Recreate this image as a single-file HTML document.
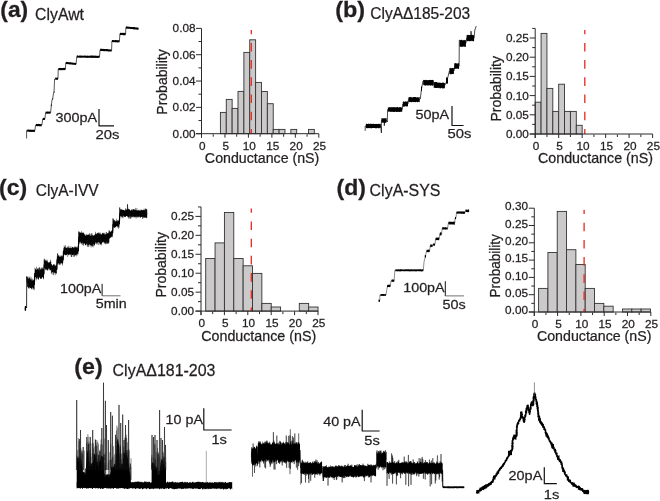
<!DOCTYPE html>
<html><head><meta charset="utf-8"><style>
html,body{margin:0;padding:0;background:#fff;}
svg{display:block;font-family:"Liberation Sans", sans-serif;will-change:transform;}
text{stroke:#231f20;stroke-width:0.25;}
</style></head><body>
<svg width="660" height="501" viewBox="0 0 660 501" fill="#231f20">
<rect width="660" height="501" fill="#fff"/>
<text transform="translate(0.3 16.6) scale(1.0600 1)" font-size="21.5" font-weight="bold">(a)</text>
<text transform="translate(35.1 19.8) scale(0.9582 1)" font-size="16.5">ClyAwt</text>
<text transform="translate(335.2 16.6) scale(1.0900 1)" font-size="21.5" font-weight="bold">(b)</text>
<text transform="translate(370.3 19.0) scale(0.9394 1)" font-size="16.5">ClyA&#916;185-203</text>
<text transform="translate(-1.0 195.4) scale(1.0700 1)" font-size="21.5" font-weight="bold">(c)</text>
<text transform="translate(35.8 196.3) scale(0.9394 1)" font-size="16.5">ClyA-IVV</text>
<text transform="translate(336.6 195.0) scale(1.0700 1)" font-size="21.5" font-weight="bold">(d)</text>
<text transform="translate(369.6 196.3) scale(0.9676 1)" font-size="16.5">ClyA-SYS</text>
<text transform="translate(74.3 373.6) scale(1.0800 1)" font-size="21.5" font-weight="bold">(e)</text>
<text transform="translate(112.6 375.5) scale(0.9676 1)" font-size="16.5">ClyA&#916;181-203</text>
<rect x="220.40" y="112.40" width="5.87" height="21.30" fill="#cbc9c9" stroke="#333" stroke-width="0.9"/>
<rect x="226.27" y="99.40" width="5.87" height="34.30" fill="#cbc9c9" stroke="#333" stroke-width="0.9"/>
<rect x="232.14" y="108.40" width="5.87" height="25.30" fill="#cbc9c9" stroke="#333" stroke-width="0.9"/>
<rect x="238.01" y="91.40" width="5.87" height="42.30" fill="#cbc9c9" stroke="#333" stroke-width="0.9"/>
<rect x="243.88" y="52.40" width="5.87" height="81.30" fill="#cbc9c9" stroke="#333" stroke-width="0.9"/>
<rect x="249.75" y="39.80" width="5.87" height="93.90" fill="#cbc9c9" stroke="#333" stroke-width="0.9"/>
<rect x="255.62" y="82.40" width="5.87" height="51.30" fill="#cbc9c9" stroke="#333" stroke-width="0.9"/>
<rect x="261.49" y="91.50" width="5.87" height="42.20" fill="#cbc9c9" stroke="#333" stroke-width="0.9"/>
<rect x="267.36" y="103.70" width="5.87" height="30.00" fill="#cbc9c9" stroke="#333" stroke-width="0.9"/>
<rect x="273.23" y="129.40" width="5.87" height="4.30" fill="#cbc9c9" stroke="#333" stroke-width="0.9"/>
<rect x="279.10" y="129.40" width="5.87" height="4.30" fill="#cbc9c9" stroke="#333" stroke-width="0.9"/>
<rect x="290.84" y="129.40" width="5.87" height="4.30" fill="#cbc9c9" stroke="#333" stroke-width="0.9"/>
<rect x="308.45" y="129.40" width="5.87" height="4.30" fill="#cbc9c9" stroke="#333" stroke-width="0.9"/>
<line x1="251.3" y1="29.879999999999995" x2="251.3" y2="133.7" stroke="#e8281e" stroke-width="1.3" stroke-dasharray="8.6 8.6" stroke-dashoffset="4.2"/>
<line x1="201.50" y1="28.38" x2="201.50" y2="137.70" stroke="#2b2b2b" stroke-width="1"/>
<line x1="196.00" y1="133.70" x2="318.80" y2="133.70" stroke="#2b2b2b" stroke-width="1"/>
<line x1="196.00" y1="133.70" x2="201.50" y2="133.70" stroke="#2b2b2b" stroke-width="1"/>
<text transform="translate(195.5 137.6) scale(1.0700 1)" font-size="11" text-anchor="end">0.00</text>
<line x1="196.00" y1="107.37" x2="201.50" y2="107.37" stroke="#2b2b2b" stroke-width="1"/>
<text transform="translate(195.5 111.27) scale(1.0700 1)" font-size="11" text-anchor="end">0.02</text>
<line x1="196.00" y1="81.04" x2="201.50" y2="81.04" stroke="#2b2b2b" stroke-width="1"/>
<text transform="translate(195.5 84.94) scale(1.0700 1)" font-size="11" text-anchor="end">0.04</text>
<line x1="196.00" y1="54.71" x2="201.50" y2="54.71" stroke="#2b2b2b" stroke-width="1"/>
<text transform="translate(195.5 58.60999999999999) scale(1.0700 1)" font-size="11" text-anchor="end">0.06</text>
<line x1="196.00" y1="28.38" x2="201.50" y2="28.38" stroke="#2b2b2b" stroke-width="1"/>
<text transform="translate(195.5 32.279999999999994) scale(1.0700 1)" font-size="11" text-anchor="end">0.08</text>
<line x1="198.50" y1="120.53" x2="201.50" y2="120.53" stroke="#2b2b2b" stroke-width="1"/>
<line x1="198.50" y1="94.20" x2="201.50" y2="94.20" stroke="#2b2b2b" stroke-width="1"/>
<line x1="198.50" y1="67.88" x2="201.50" y2="67.88" stroke="#2b2b2b" stroke-width="1"/>
<line x1="198.50" y1="41.54" x2="201.50" y2="41.54" stroke="#2b2b2b" stroke-width="1"/>
<line x1="201.50" y1="133.70" x2="201.50" y2="137.70" stroke="#2b2b2b" stroke-width="1"/>
<text transform="translate(202.3 149.6) scale(1.0700 1)" font-size="11" text-anchor="middle">0</text>
<line x1="213.23" y1="134.20" x2="213.23" y2="136.70" stroke="#2b2b2b" stroke-width="1"/>
<line x1="224.96" y1="133.70" x2="224.96" y2="137.70" stroke="#2b2b2b" stroke-width="1"/>
<text transform="translate(225.76000000000002 149.6) scale(1.0700 1)" font-size="11" text-anchor="middle">5</text>
<line x1="236.69" y1="134.20" x2="236.69" y2="136.70" stroke="#2b2b2b" stroke-width="1"/>
<line x1="248.42" y1="133.70" x2="248.42" y2="137.70" stroke="#2b2b2b" stroke-width="1"/>
<text transform="translate(249.22000000000003 149.6) scale(1.0700 1)" font-size="11" text-anchor="middle">10</text>
<line x1="260.15" y1="134.20" x2="260.15" y2="136.70" stroke="#2b2b2b" stroke-width="1"/>
<line x1="271.88" y1="133.70" x2="271.88" y2="137.70" stroke="#2b2b2b" stroke-width="1"/>
<text transform="translate(272.68 149.6) scale(1.0700 1)" font-size="11" text-anchor="middle">15</text>
<line x1="283.61" y1="134.20" x2="283.61" y2="136.70" stroke="#2b2b2b" stroke-width="1"/>
<line x1="295.34" y1="133.70" x2="295.34" y2="137.70" stroke="#2b2b2b" stroke-width="1"/>
<text transform="translate(296.14000000000004 149.6) scale(1.0700 1)" font-size="11" text-anchor="middle">20</text>
<line x1="307.07" y1="134.20" x2="307.07" y2="136.70" stroke="#2b2b2b" stroke-width="1"/>
<line x1="318.80" y1="133.70" x2="318.80" y2="137.70" stroke="#2b2b2b" stroke-width="1"/>
<text transform="translate(319.6 149.6) scale(1.0700 1)" font-size="11" text-anchor="middle">25</text>
<text transform="translate(262.1 162.5) scale(0.9801 1)" font-size="14.5" text-anchor="middle">Conductance (nS)</text>
<text transform="translate(167.1 82.0) rotate(-90)" font-size="14" text-anchor="middle">Probability</text>
<rect x="535.20" y="102.20" width="5.87" height="31.80" fill="#cbc9c9" stroke="#333" stroke-width="0.9"/>
<rect x="541.07" y="33.40" width="5.87" height="100.60" fill="#cbc9c9" stroke="#333" stroke-width="0.9"/>
<rect x="546.94" y="88.40" width="5.87" height="45.60" fill="#cbc9c9" stroke="#333" stroke-width="0.9"/>
<rect x="552.81" y="111.40" width="5.87" height="22.60" fill="#cbc9c9" stroke="#333" stroke-width="0.9"/>
<rect x="558.68" y="84.20" width="5.87" height="49.80" fill="#cbc9c9" stroke="#333" stroke-width="0.9"/>
<rect x="564.55" y="111.40" width="5.87" height="22.60" fill="#cbc9c9" stroke="#333" stroke-width="0.9"/>
<rect x="570.42" y="111.40" width="5.87" height="22.60" fill="#cbc9c9" stroke="#333" stroke-width="0.9"/>
<rect x="576.29" y="125.30" width="5.87" height="8.70" fill="#cbc9c9" stroke="#333" stroke-width="0.9"/>
<line x1="584.8" y1="29.900000000000006" x2="584.8" y2="134.0" stroke="#e8281e" stroke-width="1.3" stroke-dasharray="8.6 8.6" stroke-dashoffset="4.2"/>
<line x1="535.20" y1="28.40" x2="535.20" y2="138.00" stroke="#2b2b2b" stroke-width="1"/>
<line x1="529.70" y1="134.00" x2="652.60" y2="134.00" stroke="#2b2b2b" stroke-width="1"/>
<line x1="529.70" y1="134.00" x2="535.20" y2="134.00" stroke="#2b2b2b" stroke-width="1"/>
<text transform="translate(528.9000000000001 137.9) scale(1.0700 1)" font-size="11" text-anchor="end">0.00</text>
<line x1="529.70" y1="114.80" x2="535.20" y2="114.80" stroke="#2b2b2b" stroke-width="1"/>
<text transform="translate(528.9000000000001 118.7) scale(1.0700 1)" font-size="11" text-anchor="end">0.05</text>
<line x1="529.70" y1="95.60" x2="535.20" y2="95.60" stroke="#2b2b2b" stroke-width="1"/>
<text transform="translate(528.9000000000001 99.5) scale(1.0700 1)" font-size="11" text-anchor="end">0.10</text>
<line x1="529.70" y1="76.40" x2="535.20" y2="76.40" stroke="#2b2b2b" stroke-width="1"/>
<text transform="translate(528.9000000000001 80.30000000000001) scale(1.0700 1)" font-size="11" text-anchor="end">0.15</text>
<line x1="529.70" y1="57.20" x2="535.20" y2="57.20" stroke="#2b2b2b" stroke-width="1"/>
<text transform="translate(528.9000000000001 61.1) scale(1.0700 1)" font-size="11" text-anchor="end">0.20</text>
<line x1="529.70" y1="38.00" x2="535.20" y2="38.00" stroke="#2b2b2b" stroke-width="1"/>
<text transform="translate(528.9000000000001 41.9) scale(1.0700 1)" font-size="11" text-anchor="end">0.25</text>
<line x1="532.20" y1="124.40" x2="535.20" y2="124.40" stroke="#2b2b2b" stroke-width="1"/>
<line x1="532.20" y1="105.20" x2="535.20" y2="105.20" stroke="#2b2b2b" stroke-width="1"/>
<line x1="532.20" y1="86.00" x2="535.20" y2="86.00" stroke="#2b2b2b" stroke-width="1"/>
<line x1="532.20" y1="66.80" x2="535.20" y2="66.80" stroke="#2b2b2b" stroke-width="1"/>
<line x1="532.20" y1="47.60" x2="535.20" y2="47.60" stroke="#2b2b2b" stroke-width="1"/>
<line x1="532.20" y1="28.40" x2="535.20" y2="28.40" stroke="#2b2b2b" stroke-width="1"/>
<line x1="535.20" y1="134.00" x2="535.20" y2="138.00" stroke="#2b2b2b" stroke-width="1"/>
<text transform="translate(536.0 149.8) scale(1.0700 1)" font-size="11" text-anchor="middle">0</text>
<line x1="546.94" y1="134.50" x2="546.94" y2="137.00" stroke="#2b2b2b" stroke-width="1"/>
<line x1="558.68" y1="134.00" x2="558.68" y2="138.00" stroke="#2b2b2b" stroke-width="1"/>
<text transform="translate(559.48 149.8) scale(1.0700 1)" font-size="11" text-anchor="middle">5</text>
<line x1="570.42" y1="134.50" x2="570.42" y2="137.00" stroke="#2b2b2b" stroke-width="1"/>
<line x1="582.16" y1="134.00" x2="582.16" y2="138.00" stroke="#2b2b2b" stroke-width="1"/>
<text transform="translate(582.96 149.8) scale(1.0700 1)" font-size="11" text-anchor="middle">10</text>
<line x1="593.90" y1="134.50" x2="593.90" y2="137.00" stroke="#2b2b2b" stroke-width="1"/>
<line x1="605.64" y1="134.00" x2="605.64" y2="138.00" stroke="#2b2b2b" stroke-width="1"/>
<text transform="translate(606.44 149.8) scale(1.0700 1)" font-size="11" text-anchor="middle">15</text>
<line x1="617.38" y1="134.50" x2="617.38" y2="137.00" stroke="#2b2b2b" stroke-width="1"/>
<line x1="629.12" y1="134.00" x2="629.12" y2="138.00" stroke="#2b2b2b" stroke-width="1"/>
<text transform="translate(629.92 149.8) scale(1.0700 1)" font-size="11" text-anchor="middle">20</text>
<line x1="640.86" y1="134.50" x2="640.86" y2="137.00" stroke="#2b2b2b" stroke-width="1"/>
<line x1="652.60" y1="134.00" x2="652.60" y2="138.00" stroke="#2b2b2b" stroke-width="1"/>
<text transform="translate(653.4 149.8) scale(1.0700 1)" font-size="11" text-anchor="middle">25</text>
<text transform="translate(595.5 163.2) scale(0.9848 1)" font-size="14.5" text-anchor="middle">Conductance (nS)</text>
<text transform="translate(501.2 88.8) rotate(-90)" font-size="14" text-anchor="middle">Probability</text>
<rect x="205.70" y="258.50" width="9.36" height="52.60" fill="#cbc9c9" stroke="#333" stroke-width="0.9"/>
<rect x="215.06" y="242.90" width="9.36" height="68.20" fill="#cbc9c9" stroke="#333" stroke-width="0.9"/>
<rect x="224.42" y="212.50" width="9.36" height="98.60" fill="#cbc9c9" stroke="#333" stroke-width="0.9"/>
<rect x="233.78" y="258.50" width="9.36" height="52.60" fill="#cbc9c9" stroke="#333" stroke-width="0.9"/>
<rect x="243.14" y="265.80" width="9.36" height="45.30" fill="#cbc9c9" stroke="#333" stroke-width="0.9"/>
<rect x="252.50" y="273.40" width="9.36" height="37.70" fill="#cbc9c9" stroke="#333" stroke-width="0.9"/>
<rect x="261.86" y="303.40" width="9.36" height="7.70" fill="#cbc9c9" stroke="#333" stroke-width="0.9"/>
<rect x="271.22" y="307.00" width="9.36" height="4.10" fill="#cbc9c9" stroke="#333" stroke-width="0.9"/>
<rect x="299.30" y="303.40" width="9.36" height="7.70" fill="#cbc9c9" stroke="#333" stroke-width="0.9"/>
<rect x="308.66" y="307.00" width="9.36" height="4.10" fill="#cbc9c9" stroke="#333" stroke-width="0.9"/>
<line x1="251.3" y1="208.43" x2="251.3" y2="311.1" stroke="#e8281e" stroke-width="1.3" stroke-dasharray="8.6 8.6" stroke-dashoffset="4.2"/>
<line x1="201.00" y1="206.93" x2="201.00" y2="315.10" stroke="#2b2b2b" stroke-width="1"/>
<line x1="195.50" y1="311.10" x2="318.00" y2="311.10" stroke="#2b2b2b" stroke-width="1"/>
<line x1="195.50" y1="311.10" x2="201.00" y2="311.10" stroke="#2b2b2b" stroke-width="1"/>
<text transform="translate(194.0 315.0) scale(1.0700 1)" font-size="11" text-anchor="end">0.00</text>
<line x1="195.50" y1="292.16" x2="201.00" y2="292.16" stroke="#2b2b2b" stroke-width="1"/>
<text transform="translate(194.0 296.06) scale(1.0700 1)" font-size="11" text-anchor="end">0.05</text>
<line x1="195.50" y1="273.22" x2="201.00" y2="273.22" stroke="#2b2b2b" stroke-width="1"/>
<text transform="translate(194.0 277.12) scale(1.0700 1)" font-size="11" text-anchor="end">0.10</text>
<line x1="195.50" y1="254.28" x2="201.00" y2="254.28" stroke="#2b2b2b" stroke-width="1"/>
<text transform="translate(194.0 258.18) scale(1.0700 1)" font-size="11" text-anchor="end">0.15</text>
<line x1="195.50" y1="235.34" x2="201.00" y2="235.34" stroke="#2b2b2b" stroke-width="1"/>
<text transform="translate(194.0 239.24000000000004) scale(1.0700 1)" font-size="11" text-anchor="end">0.20</text>
<line x1="195.50" y1="216.40" x2="201.00" y2="216.40" stroke="#2b2b2b" stroke-width="1"/>
<text transform="translate(194.0 220.30000000000004) scale(1.0700 1)" font-size="11" text-anchor="end">0.25</text>
<line x1="198.00" y1="301.63" x2="201.00" y2="301.63" stroke="#2b2b2b" stroke-width="1"/>
<line x1="198.00" y1="282.69" x2="201.00" y2="282.69" stroke="#2b2b2b" stroke-width="1"/>
<line x1="198.00" y1="263.75" x2="201.00" y2="263.75" stroke="#2b2b2b" stroke-width="1"/>
<line x1="198.00" y1="244.81" x2="201.00" y2="244.81" stroke="#2b2b2b" stroke-width="1"/>
<line x1="198.00" y1="225.87" x2="201.00" y2="225.87" stroke="#2b2b2b" stroke-width="1"/>
<line x1="198.00" y1="206.93" x2="201.00" y2="206.93" stroke="#2b2b2b" stroke-width="1"/>
<line x1="201.00" y1="311.10" x2="201.00" y2="315.10" stroke="#2b2b2b" stroke-width="1"/>
<text transform="translate(201.8 327.2) scale(1.0700 1)" font-size="11" text-anchor="middle">0</text>
<line x1="212.70" y1="311.60" x2="212.70" y2="314.10" stroke="#2b2b2b" stroke-width="1"/>
<line x1="224.40" y1="311.10" x2="224.40" y2="315.10" stroke="#2b2b2b" stroke-width="1"/>
<text transform="translate(225.20000000000002 327.2) scale(1.0700 1)" font-size="11" text-anchor="middle">5</text>
<line x1="236.10" y1="311.60" x2="236.10" y2="314.10" stroke="#2b2b2b" stroke-width="1"/>
<line x1="247.80" y1="311.10" x2="247.80" y2="315.10" stroke="#2b2b2b" stroke-width="1"/>
<text transform="translate(248.60000000000002 327.2) scale(1.0700 1)" font-size="11" text-anchor="middle">10</text>
<line x1="259.50" y1="311.60" x2="259.50" y2="314.10" stroke="#2b2b2b" stroke-width="1"/>
<line x1="271.20" y1="311.10" x2="271.20" y2="315.10" stroke="#2b2b2b" stroke-width="1"/>
<text transform="translate(272.0 327.2) scale(1.0700 1)" font-size="11" text-anchor="middle">15</text>
<line x1="282.90" y1="311.60" x2="282.90" y2="314.10" stroke="#2b2b2b" stroke-width="1"/>
<line x1="294.60" y1="311.10" x2="294.60" y2="315.10" stroke="#2b2b2b" stroke-width="1"/>
<text transform="translate(295.40000000000003 327.2) scale(1.0700 1)" font-size="11" text-anchor="middle">20</text>
<line x1="306.30" y1="311.60" x2="306.30" y2="314.10" stroke="#2b2b2b" stroke-width="1"/>
<line x1="318.00" y1="311.10" x2="318.00" y2="315.10" stroke="#2b2b2b" stroke-width="1"/>
<text transform="translate(318.8 327.2) scale(1.0700 1)" font-size="11" text-anchor="middle">25</text>
<text transform="translate(258.7 340.9) scale(0.9848 1)" font-size="14.5" text-anchor="middle">Conductance (nS)</text>
<text transform="translate(165.6 264.8) rotate(-90)" font-size="14" text-anchor="middle">Probability</text>
<rect x="538.60" y="288.40" width="9.32" height="23.60" fill="#cbc9c9" stroke="#333" stroke-width="0.9"/>
<rect x="547.92" y="252.50" width="9.32" height="59.50" fill="#cbc9c9" stroke="#333" stroke-width="0.9"/>
<rect x="557.24" y="211.40" width="9.32" height="100.60" fill="#cbc9c9" stroke="#333" stroke-width="0.9"/>
<rect x="566.56" y="249.70" width="9.32" height="62.30" fill="#cbc9c9" stroke="#333" stroke-width="0.9"/>
<rect x="575.88" y="264.50" width="9.32" height="47.50" fill="#cbc9c9" stroke="#333" stroke-width="0.9"/>
<rect x="585.20" y="288.40" width="9.32" height="23.60" fill="#cbc9c9" stroke="#333" stroke-width="0.9"/>
<rect x="594.52" y="303.40" width="9.32" height="8.60" fill="#cbc9c9" stroke="#333" stroke-width="0.9"/>
<rect x="603.84" y="306.20" width="9.32" height="5.80" fill="#cbc9c9" stroke="#333" stroke-width="0.9"/>
<rect x="622.48" y="309.00" width="9.32" height="3.00" fill="#cbc9c9" stroke="#333" stroke-width="0.9"/>
<rect x="631.80" y="309.00" width="9.32" height="3.00" fill="#cbc9c9" stroke="#333" stroke-width="0.9"/>
<rect x="641.12" y="309.00" width="9.32" height="3.00" fill="#cbc9c9" stroke="#333" stroke-width="0.9"/>
<line x1="584.1" y1="209.7" x2="584.1" y2="312.0" stroke="#e8281e" stroke-width="1.3" stroke-dasharray="8.6 8.6" stroke-dashoffset="4.2"/>
<line x1="534.30" y1="208.20" x2="534.30" y2="316.00" stroke="#2b2b2b" stroke-width="1"/>
<line x1="528.80" y1="312.00" x2="650.80" y2="312.00" stroke="#2b2b2b" stroke-width="1"/>
<line x1="528.80" y1="312.00" x2="534.30" y2="312.00" stroke="#2b2b2b" stroke-width="1"/>
<text transform="translate(528.0 314.2) scale(1.0700 1)" font-size="11" text-anchor="end">0.00</text>
<line x1="528.80" y1="294.70" x2="534.30" y2="294.70" stroke="#2b2b2b" stroke-width="1"/>
<text transform="translate(528.0 296.9) scale(1.0700 1)" font-size="11" text-anchor="end">0.05</text>
<line x1="528.80" y1="277.40" x2="534.30" y2="277.40" stroke="#2b2b2b" stroke-width="1"/>
<text transform="translate(528.0 279.59999999999997) scale(1.0700 1)" font-size="11" text-anchor="end">0.10</text>
<line x1="528.80" y1="260.10" x2="534.30" y2="260.10" stroke="#2b2b2b" stroke-width="1"/>
<text transform="translate(528.0 262.3) scale(1.0700 1)" font-size="11" text-anchor="end">0.15</text>
<line x1="528.80" y1="242.80" x2="534.30" y2="242.80" stroke="#2b2b2b" stroke-width="1"/>
<text transform="translate(528.0 245.0) scale(1.0700 1)" font-size="11" text-anchor="end">0.20</text>
<line x1="528.80" y1="225.50" x2="534.30" y2="225.50" stroke="#2b2b2b" stroke-width="1"/>
<text transform="translate(528.0 227.7) scale(1.0700 1)" font-size="11" text-anchor="end">0.25</text>
<line x1="528.80" y1="208.20" x2="534.30" y2="208.20" stroke="#2b2b2b" stroke-width="1"/>
<text transform="translate(528.0 210.39999999999998) scale(1.0700 1)" font-size="11" text-anchor="end">0.30</text>
<line x1="531.30" y1="303.35" x2="534.30" y2="303.35" stroke="#2b2b2b" stroke-width="1"/>
<line x1="531.30" y1="286.05" x2="534.30" y2="286.05" stroke="#2b2b2b" stroke-width="1"/>
<line x1="531.30" y1="268.75" x2="534.30" y2="268.75" stroke="#2b2b2b" stroke-width="1"/>
<line x1="531.30" y1="251.45" x2="534.30" y2="251.45" stroke="#2b2b2b" stroke-width="1"/>
<line x1="531.30" y1="234.15" x2="534.30" y2="234.15" stroke="#2b2b2b" stroke-width="1"/>
<line x1="531.30" y1="216.85" x2="534.30" y2="216.85" stroke="#2b2b2b" stroke-width="1"/>
<line x1="534.30" y1="312.00" x2="534.30" y2="316.00" stroke="#2b2b2b" stroke-width="1"/>
<text transform="translate(535.0999999999999 328.4) scale(1.0700 1)" font-size="11" text-anchor="middle">0</text>
<line x1="545.95" y1="312.50" x2="545.95" y2="315.00" stroke="#2b2b2b" stroke-width="1"/>
<line x1="557.60" y1="312.00" x2="557.60" y2="316.00" stroke="#2b2b2b" stroke-width="1"/>
<text transform="translate(558.3999999999999 328.4) scale(1.0700 1)" font-size="11" text-anchor="middle">5</text>
<line x1="569.25" y1="312.50" x2="569.25" y2="315.00" stroke="#2b2b2b" stroke-width="1"/>
<line x1="580.90" y1="312.00" x2="580.90" y2="316.00" stroke="#2b2b2b" stroke-width="1"/>
<text transform="translate(581.6999999999999 328.4) scale(1.0700 1)" font-size="11" text-anchor="middle">10</text>
<line x1="592.55" y1="312.50" x2="592.55" y2="315.00" stroke="#2b2b2b" stroke-width="1"/>
<line x1="604.20" y1="312.00" x2="604.20" y2="316.00" stroke="#2b2b2b" stroke-width="1"/>
<text transform="translate(604.9999999999999 328.4) scale(1.0700 1)" font-size="11" text-anchor="middle">15</text>
<line x1="615.85" y1="312.50" x2="615.85" y2="315.00" stroke="#2b2b2b" stroke-width="1"/>
<line x1="627.50" y1="312.00" x2="627.50" y2="316.00" stroke="#2b2b2b" stroke-width="1"/>
<text transform="translate(628.3 328.4) scale(1.0700 1)" font-size="11" text-anchor="middle">20</text>
<line x1="639.15" y1="312.50" x2="639.15" y2="315.00" stroke="#2b2b2b" stroke-width="1"/>
<line x1="650.80" y1="312.00" x2="650.80" y2="316.00" stroke="#2b2b2b" stroke-width="1"/>
<text transform="translate(651.5999999999999 328.4) scale(1.0700 1)" font-size="11" text-anchor="middle">25</text>
<text transform="translate(594.2 340.9) scale(0.9801 1)" font-size="14.5" text-anchor="middle">Conductance (nS)</text>
<text transform="translate(500.0 265.8) rotate(-90) scale(0.9700 1)" font-size="14" text-anchor="middle">Probability</text>
<polyline points="26.60,138.50 26.60,130.60 34.80,130.90 35.60,125.10 41.90,125.10 42.70,118.90 44.90,118.90 45.60,112.60 50.60,112.60 51.30,105.50 52.00,100.00 52.70,98.80 53.50,93.20 54.00,92.10 54.60,79.00 55.20,78.70 58.00,78.70 58.20,69.20 65.40,69.10 65.80,62.90 76.10,64.00 76.80,56.60 99.50,56.80 100.10,49.80 111.60,50.60 111.90,41.10 119.40,41.30 119.90,33.90 125.60,34.10 125.90,27.50 132.00,27.70 138.50,28.70" fill="none" stroke="#222" stroke-width="0.75" stroke-linejoin="round"/>
<polygon points="26.90,129.58 27.43,129.71 27.95,129.68 28.48,129.49 29.01,129.54 29.53,129.78 30.06,129.47 30.59,129.80 31.11,129.81 31.64,129.71 32.17,129.66 32.69,129.67 33.22,129.69 33.75,129.78 34.27,129.82 34.80,129.86 34.80,132.06 34.27,131.94 33.75,131.92 33.22,131.85 32.69,131.73 32.17,131.88 31.64,131.84 31.11,132.00 30.59,131.97 30.06,131.74 29.53,131.89 29.01,131.85 28.48,131.54 27.95,131.66 27.43,131.57 26.90,131.48" fill="#000"/>
<polygon points="35.90,123.85 36.42,123.92 36.94,124.11 37.45,123.93 37.97,123.99 38.49,123.85 39.01,124.16 39.53,123.91 40.05,123.95 40.56,124.18 41.08,124.04 41.60,124.17 41.60,126.29 41.08,126.23 40.56,126.20 40.05,126.33 39.53,126.13 39.01,126.21 38.49,126.02 37.97,126.16 37.45,126.15 36.94,126.32 36.42,126.07 35.90,126.11" fill="#000"/>
<polygon points="42.90,117.96 43.40,117.79 43.90,118.02 44.40,117.87 44.90,117.88 44.90,120.06 44.40,119.98 43.90,120.09 43.40,119.90 42.90,119.91" fill="#000"/>
<polygon points="45.70,111.50 46.24,111.39 46.79,111.71 47.33,111.43 47.88,111.60 48.42,111.46 48.97,111.68 49.51,111.60 50.06,111.40 50.60,111.67 50.60,113.61 50.06,113.52 49.51,113.78 48.97,113.64 48.42,113.50 47.88,113.78 47.33,113.80 46.79,113.64 46.24,113.51 45.70,113.50" fill="#000"/>
<polygon points="58.40,68.06 58.90,67.99 59.40,68.00 59.90,67.94 60.40,67.86 60.90,68.18 61.40,68.03 61.90,68.06 62.40,67.97 62.90,68.13 63.40,67.86 63.90,67.99 64.40,67.86 64.90,67.90 65.40,68.21 65.40,70.07 64.90,70.35 64.40,70.00 63.90,70.29 63.40,70.01 62.90,70.06 62.40,70.16 61.90,70.22 61.40,70.09 60.90,70.13 60.40,70.22 59.90,70.02 59.40,70.15 58.90,70.19 58.40,70.10" fill="#000"/>
<polygon points="65.80,61.95 66.31,61.76 66.83,61.92 67.34,62.12 67.86,61.88 68.38,62.16 68.89,62.28 69.41,62.23 69.92,62.36 70.44,62.23 70.95,62.27 71.47,62.39 71.98,62.38 72.49,62.49 73.01,62.78 73.52,62.69 74.04,62.66 74.55,62.69 75.07,63.00 75.58,62.86 76.10,63.12 76.10,65.10 75.58,65.07 75.07,64.78 74.55,64.85 74.04,64.76 73.52,64.72 73.01,64.62 72.49,64.77 71.98,64.45 71.47,64.56 70.95,64.54 70.44,64.62 69.92,64.24 69.41,64.38 68.89,64.15 68.38,64.27 67.86,64.15 67.34,64.04 66.83,63.92 66.31,64.01 65.80,63.96" fill="#000"/>
<polygon points="76.80,55.43 77.30,55.37 77.81,55.44 78.31,55.71 78.82,55.68 79.32,55.41 79.83,55.60 80.33,55.56 80.84,55.61 81.34,55.64 81.84,55.51 82.35,55.76 82.85,55.58 83.36,55.64 83.86,55.65 84.37,55.49 84.87,55.44 85.38,55.58 85.88,55.72 86.38,55.74 86.89,55.71 87.39,55.49 87.90,55.79 88.40,55.75 88.91,55.79 89.41,55.66 89.92,55.81 90.42,55.49 90.92,55.49 91.43,55.49 91.93,55.58 92.44,55.58 92.94,55.56 93.45,55.71 93.95,55.52 94.46,55.73 94.96,55.57 95.46,55.77 95.97,55.53 96.47,55.64 96.98,55.88 97.48,55.73 97.99,55.84 98.49,55.79 99.00,55.77 99.50,55.62 99.50,57.91 99.00,57.73 98.49,57.79 97.99,57.99 97.48,57.89 96.98,57.99 96.47,57.78 95.97,57.85 95.46,57.92 94.96,57.87 94.46,57.65 93.95,57.79 93.45,57.92 92.94,57.75 92.44,57.98 91.93,57.92 91.43,57.64 90.92,57.65 90.42,57.70 89.92,57.84 89.41,57.66 88.91,57.65 88.40,57.72 87.90,57.70 87.39,57.91 86.89,57.71 86.38,57.69 85.88,57.71 85.38,57.85 84.87,57.59 84.37,57.63 83.86,57.86 83.36,57.61 82.85,57.58 82.35,57.78 81.84,57.60 81.34,57.66 80.84,57.84 80.33,57.76 79.83,57.75 79.32,57.85 78.82,57.55 78.31,57.50 77.81,57.56 77.30,57.84 76.80,57.63" fill="#000"/>
<polygon points="100.10,48.69 100.60,48.79 101.10,48.70 101.60,48.75 102.10,48.81 102.60,48.90 103.10,48.79 103.60,49.08 104.10,49.05 104.60,48.98 105.10,48.93 105.60,49.22 106.10,49.02 106.60,49.05 107.10,49.09 107.60,49.10 108.10,49.45 108.60,49.24 109.10,49.29 109.60,49.52 110.10,49.48 110.60,49.35 111.10,49.48 111.60,49.68 111.60,51.53 111.10,51.46 110.60,51.41 110.10,51.48 109.60,51.47 109.10,51.38 108.60,51.57 108.10,51.56 107.60,51.24 107.10,51.26 106.60,51.30 106.10,51.37 105.60,51.36 105.10,51.11 104.60,51.17 104.10,51.30 103.60,51.15 103.10,51.01 102.60,50.91 102.10,50.90 101.60,50.88 101.10,51.08 100.60,50.82 100.10,50.91" fill="#000"/>
<polygon points="111.90,40.14 112.40,40.01 112.90,40.12 113.40,39.96 113.90,40.19 114.40,40.20 114.90,40.20 115.40,40.11 115.90,40.10 116.40,40.13 116.90,40.00 117.40,40.31 117.90,40.21 118.40,40.17 118.90,40.24 119.40,40.32 119.40,42.48 118.90,42.49 118.40,42.15 117.90,42.48 117.40,42.45 116.90,42.14 116.40,42.16 115.90,42.19 115.40,42.39 114.90,42.06 114.40,42.13 113.90,42.35 113.40,42.24 112.90,42.03 112.40,42.05 111.90,42.21" fill="#000"/>
<polygon points="119.90,32.87 120.42,32.84 120.94,32.97 121.45,32.78 121.97,33.07 122.49,32.82 123.01,33.05 123.53,32.80 124.05,32.97 124.56,32.83 125.08,32.95 125.60,32.97 125.60,35.16 125.08,35.32 124.56,35.27 124.05,35.21 123.53,35.13 123.01,35.17 122.49,34.90 121.97,34.89 121.45,34.83 120.94,35.17 120.42,35.00 119.90,34.88" fill="#000"/>
<polygon points="125.90,26.30 126.40,26.36 126.91,26.67 127.41,26.58 127.92,26.51 128.42,26.74 128.92,26.64 129.43,26.78 129.93,26.74 130.44,26.88 130.94,26.97 131.44,26.98 131.95,26.97 132.45,27.17 132.96,27.25 133.46,27.04 133.96,27.07 134.47,27.11 134.97,27.48 135.48,27.52 135.98,27.30 136.48,27.62 136.99,27.38 137.49,27.54 138.00,27.59 138.50,27.79 138.50,29.59 138.00,29.87 137.49,29.66 136.99,29.75 136.48,29.41 135.98,29.59 135.48,29.44 134.97,29.27 134.47,29.50 133.96,29.23 133.46,29.41 132.96,29.31 132.45,29.10 131.95,29.07 131.44,28.96 130.94,28.96 130.44,28.90 129.93,28.82 129.43,28.80 128.92,28.71 128.42,28.82 127.92,28.85 127.41,28.87 126.91,28.62 126.40,28.68 125.90,28.73" fill="#000"/>
<polygon points="50.90,104.46 51.70,104.52 51.70,105.88 50.90,106.02" fill="#000"/>
<polygon points="52.30,98.27 53.10,98.25 53.10,99.60 52.30,99.47" fill="#000"/>
<polygon points="53.70,91.50 54.40,91.57 54.40,92.92 53.70,92.80" fill="#000"/>
<polygon points="55.20,77.70 55.76,77.53 56.32,77.66 56.88,77.74 57.44,77.47 58.00,77.72 58.00,79.75 57.44,79.68 56.88,79.80 56.32,79.77 55.76,79.59 55.20,79.94" fill="#000"/>
<text transform="translate(55.5 121.5) scale(1.0600 1)" font-size="13.6">300pA</text>
<polyline points="99.00,109.00 99.00,125.80 114.00,125.80" fill="none" stroke="#111" stroke-width="1.2" stroke-linejoin="round"/>
<text transform="translate(95.4 138.5) scale(1.0900 1)" font-size="13.6">20s</text>
<polyline points="365.20,130.90 365.20,126.00 380.80,126.00 381.40,132.90 381.40,120.50 384.30,120.50 384.30,125.70 384.60,120.50 386.60,120.50 387.30,122.00 387.60,109.50 402.20,109.50 402.80,104.00 408.00,104.00 408.40,99.60 419.70,99.60 420.30,99.00 421.50,88.80 423.00,81.00 433.70,82.30 444.90,85.40 447.00,80.60 449.40,71.00 454.00,71.00 455.00,66.00 459.10,66.00 459.30,40.20 465.90,43.50 466.60,38.00 471.00,38.00 471.00,31.20 471.30,38.00 474.10,38.00 474.80,30.00 476.30,26.00" fill="none" stroke="#000" stroke-width="0.7" stroke-linejoin="round"/>
<polygon points="365.90,124.00 366.41,123.60 366.93,123.89 367.44,123.89 367.96,124.12 368.47,123.57 368.98,123.83 369.50,123.94 370.01,123.89 370.52,123.60 371.04,123.91 371.55,123.69 372.07,123.67 372.58,124.09 373.09,123.67 373.61,123.83 374.12,124.01 374.63,123.98 375.15,123.89 375.66,124.04 376.18,123.84 376.69,123.93 377.20,124.05 377.72,123.97 378.23,123.94 378.74,123.80 379.26,123.89 379.77,123.79 380.29,124.01 380.80,123.78 380.80,127.91 380.29,127.87 379.77,128.09 379.26,128.22 378.74,128.18 378.23,128.23 377.72,127.84 377.20,128.19 376.69,128.27 376.18,128.27 375.66,128.34 375.15,128.19 374.63,128.09 374.12,128.03 373.61,128.04 373.09,128.11 372.58,128.10 372.07,127.92 371.55,128.21 371.04,128.43 370.52,128.01 370.01,128.18 369.50,127.97 368.98,127.93 368.47,128.22 367.96,127.94 367.44,128.24 366.93,128.14 366.41,127.99 365.90,128.16" fill="#000"/>
<polygon points="381.40,118.19 381.92,118.12 382.44,118.51 382.96,118.26 383.48,118.39 384.00,118.00 384.52,118.50 385.04,118.15 385.56,118.27 386.08,118.08 386.60,118.22 386.60,122.56 386.08,122.60 385.56,122.85 385.04,122.92 384.52,122.70 384.00,122.81 383.48,122.76 382.96,122.56 382.44,122.75 381.92,122.52 381.40,122.52" fill="#000"/>
<polygon points="387.90,106.99 388.41,107.42 388.92,107.47 389.43,107.23 389.94,106.99 390.45,107.39 390.96,107.11 391.47,107.36 391.99,107.19 392.50,107.36 393.01,107.11 393.52,107.25 394.03,107.28 394.54,107.35 395.05,107.08 395.56,107.56 396.07,107.13 396.58,107.15 397.09,107.11 397.60,106.99 398.11,107.22 398.62,107.44 399.14,107.40 399.65,107.07 400.16,107.04 400.67,107.15 401.18,107.44 401.69,107.26 402.20,107.54 402.20,111.78 401.69,111.79 401.18,111.66 400.67,111.93 400.16,111.54 399.65,111.88 399.14,111.95 398.62,111.76 398.11,112.04 397.60,111.75 397.09,111.94 396.58,111.93 396.07,112.03 395.56,111.44 395.05,111.87 394.54,111.94 394.03,111.96 393.52,111.96 393.01,111.64 392.50,111.77 391.99,111.96 391.47,111.74 390.96,111.77 390.45,111.89 389.94,111.83 389.43,111.57 388.92,111.56 388.41,111.65 387.90,111.63" fill="#000"/>
<polygon points="402.80,101.73 403.32,101.26 403.84,101.81 404.36,101.79 404.88,101.63 405.40,101.19 405.92,101.62 406.44,101.58 406.96,101.70 407.48,101.30 408.00,101.83 408.00,106.44 407.48,106.37 406.96,106.38 406.44,106.41 405.92,106.14 405.40,106.20 404.88,106.26 404.36,106.83 403.84,106.63 403.32,106.77 402.80,106.22" fill="#000"/>
<polygon points="408.40,97.50 408.91,97.27 409.43,97.08 409.94,97.20 410.45,96.86 410.97,97.35 411.48,97.33 412.00,97.14 412.51,97.44 413.02,97.37 413.54,97.08 414.05,96.90 414.56,96.94 415.08,96.98 415.59,97.06 416.10,97.16 416.62,97.49 417.13,97.04 417.65,97.47 418.16,97.32 418.67,97.44 419.19,97.13 419.70,96.85 419.70,101.92 419.19,102.13 418.67,101.93 418.16,101.82 417.65,102.16 417.13,102.29 416.62,101.77 416.10,101.97 415.59,102.33 415.08,102.00 414.56,102.27 414.05,101.79 413.54,102.26 413.02,101.87 412.51,102.17 412.00,101.70 411.48,102.17 410.97,102.20 410.45,101.88 409.94,101.80 409.43,102.25 408.91,102.18 408.40,101.81" fill="#000"/>
<polygon points="421.00,86.45 421.50,86.72 422.00,86.34 422.00,90.96 421.50,91.03 421.00,90.95" fill="#000"/>
<polygon points="423.20,79.84 423.70,80.12 424.20,80.11 424.70,79.89 425.20,79.63 425.70,80.36 426.20,80.18 426.70,79.81 427.20,80.22 427.70,79.89 428.20,80.05 428.70,80.36 429.20,80.06 429.70,79.96 430.20,79.98 430.70,79.82 431.20,79.95 431.70,80.00 432.20,79.94 432.70,79.87 433.20,80.19 433.70,80.01 433.70,85.59 433.20,85.32 432.70,85.72 432.20,85.85 431.70,85.31 431.20,85.60 430.70,85.47 430.20,85.85 429.70,85.17 429.20,85.16 428.70,85.35 428.20,85.74 427.70,85.17 427.20,85.40 426.70,85.08 426.20,85.64 425.70,85.66 425.20,85.32 424.70,85.26 424.20,85.47 423.70,84.96 423.20,85.09" fill="#000"/>
<polygon points="433.70,82.21 434.21,82.64 434.72,82.16 435.23,81.96 435.74,82.27 436.25,82.11 436.75,82.08 437.26,82.49 437.77,82.82 438.28,82.55 438.79,82.63 439.30,82.40 439.81,82.63 440.32,82.80 440.83,82.70 441.34,82.89 441.85,82.72 442.35,82.47 442.86,82.80 443.37,82.75 443.88,82.53 444.39,82.91 444.90,83.09 444.90,88.69 444.39,88.00 443.88,88.33 443.37,88.52 442.86,88.38 442.35,88.58 441.85,87.87 441.34,87.89 440.83,88.40 440.32,88.31 439.81,88.40 439.30,87.72 438.79,87.78 438.28,88.31 437.77,87.93 437.26,87.80 436.75,87.89 436.25,87.99 435.74,88.05 435.23,87.91 434.72,87.63 434.21,87.75 433.70,88.04" fill="#000"/>
<polygon points="446.00,77.30 446.50,77.57 447.00,77.60 447.50,77.79 448.00,77.53 448.00,83.95 447.50,83.40 447.00,83.20 446.50,83.75 446.00,83.93" fill="#000"/>
<polygon points="449.40,68.33 449.90,67.91 450.40,68.30 450.90,67.66 451.40,68.38 451.90,67.79 452.40,68.03 452.90,68.20 453.40,68.08 453.90,67.79 453.90,74.32 453.40,74.11 452.90,73.86 452.40,74.05 451.90,73.96 451.40,74.24 450.90,74.17 450.40,74.31 449.90,74.11 449.40,74.23" fill="#000"/>
<polygon points="454.20,63.11 454.74,63.44 455.29,63.05 455.83,63.17 456.38,63.44 456.92,63.17 457.47,63.55 458.01,63.57 458.56,63.09 459.10,63.43 459.10,68.38 458.56,69.05 458.01,68.78 457.47,68.59 456.92,69.04 456.38,68.41 455.83,68.68 455.29,68.81 454.74,69.04 454.20,68.95" fill="#000"/>
<polygon points="459.60,40.32 460.12,39.77 460.65,40.52 461.18,39.75 461.70,39.74 462.23,39.97 462.75,40.55 463.27,39.68 463.80,40.53 464.32,40.24 464.85,39.71 465.38,40.20 465.90,40.09 465.90,46.44 465.38,46.91 464.85,47.09 464.32,46.40 463.80,46.49 463.27,46.60 462.75,46.95 462.23,46.57 461.70,47.20 461.18,46.39 460.65,46.70 460.12,46.64 459.60,46.81" fill="#000"/>
<polygon points="466.60,35.37 467.10,34.87 467.60,35.36 468.10,34.90 468.60,34.87 469.10,35.20 469.60,34.96 470.10,34.94 470.60,34.88 471.10,34.92 471.60,34.67 472.10,34.60 472.60,35.20 473.10,35.04 473.60,35.13 474.10,35.24 474.10,41.10 473.60,41.42 473.10,40.90 472.60,41.19 472.10,40.80 471.60,40.85 471.10,41.36 470.60,41.29 470.10,40.90 469.60,41.17 469.10,41.13 468.60,40.79 468.10,41.19 467.60,41.21 467.10,41.25 466.60,41.25" fill="#000"/>
<text transform="translate(415.5 119.1) scale(1.0600 1)" font-size="13.6">50pA</text>
<polyline points="452.00,105.90 452.00,125.50 463.60,125.50" fill="none" stroke="#111" stroke-width="1.2" stroke-linejoin="round"/>
<text transform="translate(447.5 138.2) scale(1.0900 1)" font-size="13.6">50s</text>
<polyline points="25.30,310.50 25.60,306.00 26.60,308.00 26.70,276.50 27.20,283.00" fill="none" stroke="#000" stroke-width="0.8" stroke-linejoin="round"/>
<polygon points="24.70,306.60 25.40,306.37 26.10,306.44 26.10,310.69 25.40,310.39 24.70,310.38" fill="#000"/>
<polyline points="27.20,282.00 34.40,284.50 34.70,273.50 44.00,273.80 44.00,265.00 51.20,265.50 51.20,268.50 56.80,269.50 57.10,259.80 63.20,259.80 63.50,251.20 78.30,251.00 78.80,237.00 85.00,239.50 85.00,239.50 95.00,240.50 95.00,238.50 109.30,238.00 109.30,235.00 112.60,233.00 113.10,224.00 119.30,224.00 119.90,213.00 147.20,213.80" fill="none" stroke="#000" stroke-width="1.2" stroke-linejoin="round"/>
<polygon points="27.20,278.25 27.71,276.88 28.23,279.26 28.74,277.54 29.26,277.84 29.77,277.89 30.29,280.03 30.80,278.46 31.31,279.43 31.83,280.56 32.34,280.64 32.86,278.57 33.37,279.93 33.89,280.31 34.40,280.74 34.40,289.98 33.89,288.07 33.37,289.14 32.86,288.39 32.34,286.99 31.83,289.03 31.31,288.75 30.80,287.93 30.29,288.07 29.77,288.21 29.26,286.85 28.74,287.95 28.23,287.85 27.71,286.87 27.20,286.67" fill="#000"/>
<polyline points="28.96,282.61 28.96,289.06" fill="none" stroke="#111" stroke-width="0.5" stroke-linejoin="round"/>
<polyline points="31.78,283.59 31.78,278.30" fill="none" stroke="#111" stroke-width="0.5" stroke-linejoin="round"/>
<polyline points="27.40,282.07 27.40,277.37" fill="none" stroke="#111" stroke-width="0.5" stroke-linejoin="round"/>
<polyline points="28.11,282.32 28.11,287.17" fill="none" stroke="#111" stroke-width="0.5" stroke-linejoin="round"/>
<polyline points="28.32,282.39 28.32,287.71" fill="none" stroke="#111" stroke-width="0.5" stroke-linejoin="round"/>
<polyline points="29.60,282.83 29.60,276.59" fill="none" stroke="#111" stroke-width="0.5" stroke-linejoin="round"/>
<polyline points="32.07,283.69 32.07,289.58" fill="none" stroke="#111" stroke-width="0.5" stroke-linejoin="round"/>
<polyline points="27.92,282.25 27.92,276.43" fill="none" stroke="#111" stroke-width="0.5" stroke-linejoin="round"/>
<polyline points="34.06,284.38 34.06,290.31" fill="none" stroke="#111" stroke-width="0.5" stroke-linejoin="round"/>
<polyline points="30.94,283.30 30.94,276.87" fill="none" stroke="#111" stroke-width="0.5" stroke-linejoin="round"/>
<polygon points="34.70,267.87 35.22,268.05 35.73,269.54 36.25,269.87 36.77,269.82 37.28,268.96 37.80,268.26 38.32,267.91 38.83,270.06 39.35,270.40 39.87,268.50 40.38,270.14 40.90,268.95 41.42,268.73 41.93,269.25 42.45,267.97 42.97,269.12 43.48,268.50 44.00,269.86 44.00,279.20 43.48,279.26 42.97,277.09 42.45,277.07 41.93,278.40 41.42,278.20 40.90,278.17 40.38,279.34 39.87,277.96 39.35,276.86 38.83,279.31 38.32,279.16 37.80,278.08 37.28,276.93 36.77,278.63 36.25,278.52 35.73,276.99 35.22,277.05 34.70,277.99" fill="#000"/>
<polyline points="38.49,273.62 38.49,279.77" fill="none" stroke="#111" stroke-width="0.5" stroke-linejoin="round"/>
<polyline points="41.49,273.72 41.49,279.04" fill="none" stroke="#111" stroke-width="0.5" stroke-linejoin="round"/>
<polyline points="42.31,273.75 42.31,267.44" fill="none" stroke="#111" stroke-width="0.5" stroke-linejoin="round"/>
<polyline points="36.51,273.56 36.51,266.70" fill="none" stroke="#111" stroke-width="0.5" stroke-linejoin="round"/>
<polyline points="39.71,273.66 39.71,267.90" fill="none" stroke="#111" stroke-width="0.5" stroke-linejoin="round"/>
<polyline points="40.84,273.70 40.84,268.29" fill="none" stroke="#111" stroke-width="0.5" stroke-linejoin="round"/>
<polyline points="34.87,273.51 34.87,279.17" fill="none" stroke="#111" stroke-width="0.5" stroke-linejoin="round"/>
<polyline points="39.38,273.65 39.38,267.43" fill="none" stroke="#111" stroke-width="0.5" stroke-linejoin="round"/>
<polyline points="36.31,273.55 36.31,280.38" fill="none" stroke="#111" stroke-width="0.5" stroke-linejoin="round"/>
<polyline points="39.28,273.65 39.28,267.02" fill="none" stroke="#111" stroke-width="0.5" stroke-linejoin="round"/>
<polyline points="37.40,273.59 37.40,279.07" fill="none" stroke="#111" stroke-width="0.5" stroke-linejoin="round"/>
<polyline points="41.40,273.72 41.40,267.61" fill="none" stroke="#111" stroke-width="0.5" stroke-linejoin="round"/>
<polyline points="43.31,273.78 43.31,267.26" fill="none" stroke="#111" stroke-width="0.5" stroke-linejoin="round"/>
<polygon points="44.00,261.14 44.51,260.81 45.03,260.78 45.54,260.17 46.06,260.64 46.57,261.51 47.09,260.34 47.60,261.69 48.11,262.39 48.63,262.47 49.14,262.30 49.66,262.14 50.17,260.74 50.69,262.59 51.20,260.87 51.20,270.29 50.69,269.96 50.17,270.50 49.66,270.17 49.14,268.34 48.63,268.58 48.11,270.09 47.60,270.06 47.09,269.65 46.57,269.09 46.06,269.78 45.54,269.01 45.03,268.74 44.51,268.12 44.00,268.11" fill="#000"/>
<polyline points="45.36,265.09 45.36,270.25" fill="none" stroke="#111" stroke-width="0.5" stroke-linejoin="round"/>
<polyline points="47.09,265.21 47.09,259.58" fill="none" stroke="#111" stroke-width="0.5" stroke-linejoin="round"/>
<polyline points="46.08,265.14 46.08,259.91" fill="none" stroke="#111" stroke-width="0.5" stroke-linejoin="round"/>
<polyline points="50.51,265.45 50.51,259.70" fill="none" stroke="#111" stroke-width="0.5" stroke-linejoin="round"/>
<polyline points="46.23,265.15 46.23,270.25" fill="none" stroke="#111" stroke-width="0.5" stroke-linejoin="round"/>
<polyline points="47.64,265.25 47.64,270.91" fill="none" stroke="#111" stroke-width="0.5" stroke-linejoin="round"/>
<polyline points="44.68,265.05 44.68,258.76" fill="none" stroke="#111" stroke-width="0.5" stroke-linejoin="round"/>
<polyline points="44.21,265.01 44.21,258.79" fill="none" stroke="#111" stroke-width="0.5" stroke-linejoin="round"/>
<polyline points="44.11,265.01 44.11,260.27" fill="none" stroke="#111" stroke-width="0.5" stroke-linejoin="round"/>
<polyline points="44.62,265.04 44.62,259.55" fill="none" stroke="#111" stroke-width="0.5" stroke-linejoin="round"/>
<polygon points="51.20,264.13 51.71,263.74 52.22,265.44 52.73,265.52 53.24,265.05 53.75,264.17 54.25,265.19 54.76,265.48 55.27,265.11 55.78,266.20 56.29,265.20 56.80,265.57 56.80,273.13 56.29,274.11 55.78,272.63 55.27,273.38 54.76,273.26 54.25,272.49 53.75,271.78 53.24,273.37 52.73,272.19 52.22,272.02 51.71,272.40 51.20,273.34" fill="#000"/>
<polyline points="55.23,269.22 55.23,275.28" fill="none" stroke="#111" stroke-width="0.5" stroke-linejoin="round"/>
<polyline points="53.82,268.97 53.82,264.09" fill="none" stroke="#111" stroke-width="0.5" stroke-linejoin="round"/>
<polyline points="56.35,269.42 56.35,263.72" fill="none" stroke="#111" stroke-width="0.5" stroke-linejoin="round"/>
<polyline points="53.49,268.91 53.49,275.12" fill="none" stroke="#111" stroke-width="0.5" stroke-linejoin="round"/>
<polyline points="51.37,268.53 51.37,274.05" fill="none" stroke="#111" stroke-width="0.5" stroke-linejoin="round"/>
<polyline points="51.61,268.57 51.61,264.16" fill="none" stroke="#111" stroke-width="0.5" stroke-linejoin="round"/>
<polyline points="54.27,269.05 54.27,264.00" fill="none" stroke="#111" stroke-width="0.5" stroke-linejoin="round"/>
<polyline points="52.91,268.80 52.91,274.76" fill="none" stroke="#111" stroke-width="0.5" stroke-linejoin="round"/>
<polygon points="57.10,257.08 57.61,255.80 58.12,256.30 58.62,255.11 59.13,255.89 59.64,257.13 60.15,255.35 60.66,256.94 61.17,256.48 61.68,255.72 62.18,256.75 62.69,255.71 63.20,256.99 63.20,262.42 62.69,263.25 62.18,264.38 61.68,262.69 61.17,262.93 60.66,263.34 60.15,263.87 59.64,263.41 59.13,264.19 58.62,263.55 58.12,262.91 57.61,264.25 57.10,264.32" fill="#000"/>
<polyline points="59.90,259.80 59.90,263.96" fill="none" stroke="#111" stroke-width="0.5" stroke-linejoin="round"/>
<polyline points="62.43,259.80 62.43,265.55" fill="none" stroke="#111" stroke-width="0.5" stroke-linejoin="round"/>
<polyline points="61.90,259.80 61.90,263.88" fill="none" stroke="#111" stroke-width="0.5" stroke-linejoin="round"/>
<polyline points="61.46,259.80 61.46,255.30" fill="none" stroke="#111" stroke-width="0.5" stroke-linejoin="round"/>
<polyline points="59.08,259.80 59.08,265.03" fill="none" stroke="#111" stroke-width="0.5" stroke-linejoin="round"/>
<polyline points="62.78,259.80 62.78,255.44" fill="none" stroke="#111" stroke-width="0.5" stroke-linejoin="round"/>
<polyline points="59.31,259.80 59.31,264.87" fill="none" stroke="#111" stroke-width="0.5" stroke-linejoin="round"/>
<polyline points="60.22,259.80 60.22,265.08" fill="none" stroke="#111" stroke-width="0.5" stroke-linejoin="round"/>
<polyline points="58.87,259.80 58.87,254.91" fill="none" stroke="#111" stroke-width="0.5" stroke-linejoin="round"/>
<polygon points="63.50,248.36 64.01,247.76 64.52,246.60 65.03,247.41 65.54,247.29 66.05,247.70 66.56,247.70 67.07,248.46 67.58,247.16 68.09,247.30 68.60,247.73 69.11,248.30 69.62,247.91 70.13,247.41 70.64,248.13 71.16,247.42 71.67,248.43 72.18,246.98 72.69,246.65 73.20,248.13 73.71,246.99 74.22,248.15 74.73,247.64 75.24,247.42 75.75,246.52 76.26,247.99 76.77,246.46 77.28,248.36 77.79,248.16 78.30,246.94 78.30,253.72 77.79,253.82 77.28,253.81 76.77,255.10 76.26,254.22 75.75,255.56 75.24,255.30 74.73,255.57 74.22,253.79 73.71,255.09 73.20,254.59 72.69,255.22 72.18,254.94 71.67,253.86 71.16,254.72 70.64,255.62 70.13,253.72 69.62,254.78 69.11,254.81 68.60,255.49 68.09,254.14 67.58,253.91 67.07,254.50 66.56,255.00 66.05,255.34 65.54,254.82 65.03,255.62 64.52,254.87 64.01,254.02 63.50,255.63" fill="#000"/>
<polyline points="67.29,251.15 67.29,246.40" fill="none" stroke="#111" stroke-width="0.5" stroke-linejoin="round"/>
<polyline points="77.75,251.01 77.75,255.10" fill="none" stroke="#111" stroke-width="0.5" stroke-linejoin="round"/>
<polyline points="73.90,251.06 73.90,256.96" fill="none" stroke="#111" stroke-width="0.5" stroke-linejoin="round"/>
<polyline points="74.10,251.06 74.10,256.71" fill="none" stroke="#111" stroke-width="0.5" stroke-linejoin="round"/>
<polyline points="68.80,251.13 68.80,245.70" fill="none" stroke="#111" stroke-width="0.5" stroke-linejoin="round"/>
<polyline points="65.53,251.17 65.53,245.21" fill="none" stroke="#111" stroke-width="0.5" stroke-linejoin="round"/>
<polyline points="71.78,251.09 71.78,256.95" fill="none" stroke="#111" stroke-width="0.5" stroke-linejoin="round"/>
<polyline points="67.70,251.14 67.70,256.94" fill="none" stroke="#111" stroke-width="0.5" stroke-linejoin="round"/>
<polyline points="68.89,251.13 68.89,246.90" fill="none" stroke="#111" stroke-width="0.5" stroke-linejoin="round"/>
<polyline points="77.05,251.02 77.05,247.03" fill="none" stroke="#111" stroke-width="0.5" stroke-linejoin="round"/>
<polyline points="76.67,251.02 76.67,256.34" fill="none" stroke="#111" stroke-width="0.5" stroke-linejoin="round"/>
<polyline points="74.35,251.05 74.35,246.90" fill="none" stroke="#111" stroke-width="0.5" stroke-linejoin="round"/>
<polyline points="70.90,251.10 70.90,246.12" fill="none" stroke="#111" stroke-width="0.5" stroke-linejoin="round"/>
<polyline points="74.40,251.05 74.40,256.26" fill="none" stroke="#111" stroke-width="0.5" stroke-linejoin="round"/>
<polyline points="64.19,251.19 64.19,245.43" fill="none" stroke="#111" stroke-width="0.5" stroke-linejoin="round"/>
<polyline points="65.32,251.18 65.32,255.25" fill="none" stroke="#111" stroke-width="0.5" stroke-linejoin="round"/>
<polyline points="77.40,251.01 77.40,246.22" fill="none" stroke="#111" stroke-width="0.5" stroke-linejoin="round"/>
<polyline points="71.59,251.09 71.59,256.94" fill="none" stroke="#111" stroke-width="0.5" stroke-linejoin="round"/>
<polyline points="74.40,251.05 74.40,246.93" fill="none" stroke="#111" stroke-width="0.5" stroke-linejoin="round"/>
<polyline points="73.97,251.06 73.97,255.06" fill="none" stroke="#111" stroke-width="0.5" stroke-linejoin="round"/>
<polyline points="74.97,251.05 74.97,246.16" fill="none" stroke="#111" stroke-width="0.5" stroke-linejoin="round"/>
<polyline points="71.24,251.10 71.24,257.04" fill="none" stroke="#111" stroke-width="0.5" stroke-linejoin="round"/>
<polygon points="78.80,232.51 79.32,231.86 79.83,233.01 80.35,232.49 80.87,232.54 81.38,232.61 81.90,233.19 82.42,232.78 82.93,232.87 83.45,232.81 83.97,233.87 84.48,233.65 85.00,235.45 85.00,243.67 84.48,243.84 83.97,242.76 83.45,244.97 82.93,242.36 82.42,243.06 81.90,243.45 81.38,242.92 80.87,243.28 80.35,241.49 79.83,242.11 79.32,242.70 78.80,241.02" fill="#000"/>
<polyline points="82.74,238.59 82.74,244.74" fill="none" stroke="#111" stroke-width="0.5" stroke-linejoin="round"/>
<polyline points="83.19,238.77 83.19,232.25" fill="none" stroke="#111" stroke-width="0.5" stroke-linejoin="round"/>
<polyline points="83.03,238.70 83.03,233.08" fill="none" stroke="#111" stroke-width="0.5" stroke-linejoin="round"/>
<polyline points="83.70,238.98 83.70,245.81" fill="none" stroke="#111" stroke-width="0.5" stroke-linejoin="round"/>
<polyline points="80.79,237.80 80.79,243.47" fill="none" stroke="#111" stroke-width="0.5" stroke-linejoin="round"/>
<polyline points="82.91,238.66 82.91,245.39" fill="none" stroke="#111" stroke-width="0.5" stroke-linejoin="round"/>
<polyline points="81.57,238.12 81.57,231.17" fill="none" stroke="#111" stroke-width="0.5" stroke-linejoin="round"/>
<polyline points="81.68,238.16 81.68,244.39" fill="none" stroke="#111" stroke-width="0.5" stroke-linejoin="round"/>
<polyline points="79.34,237.22 79.34,243.96" fill="none" stroke="#111" stroke-width="0.5" stroke-linejoin="round"/>
<polygon points="85.00,235.81 85.50,235.77 86.00,233.46 86.50,235.54 87.00,234.14 87.50,235.43 88.00,234.58 88.50,234.46 89.00,234.98 89.50,235.15 90.00,235.67 90.50,235.56 91.00,235.72 91.50,234.94 92.00,235.82 92.50,234.93 93.00,235.72 93.50,235.35 94.00,235.70 94.50,234.20 95.00,235.61 95.00,246.40 94.50,244.51 94.00,245.67 93.50,243.85 93.00,244.58 92.50,245.77 92.00,245.60 91.50,246.12 91.00,245.00 90.50,245.32 90.00,245.95 89.50,243.72 89.00,245.84 88.50,244.39 88.00,245.80 87.50,245.04 87.00,243.47 86.50,244.09 86.00,245.69 85.50,244.76 85.00,245.18" fill="#000"/>
<polyline points="90.80,240.08 90.80,234.17" fill="none" stroke="#111" stroke-width="0.5" stroke-linejoin="round"/>
<polyline points="93.22,240.32 93.22,245.92" fill="none" stroke="#111" stroke-width="0.5" stroke-linejoin="round"/>
<polyline points="87.92,239.79 87.92,247.11" fill="none" stroke="#111" stroke-width="0.5" stroke-linejoin="round"/>
<polyline points="91.12,240.11 91.12,247.41" fill="none" stroke="#111" stroke-width="0.5" stroke-linejoin="round"/>
<polyline points="92.41,240.24 92.41,246.01" fill="none" stroke="#111" stroke-width="0.5" stroke-linejoin="round"/>
<polyline points="88.70,239.87 88.70,247.05" fill="none" stroke="#111" stroke-width="0.5" stroke-linejoin="round"/>
<polyline points="88.02,239.80 88.02,234.43" fill="none" stroke="#111" stroke-width="0.5" stroke-linejoin="round"/>
<polyline points="91.97,240.20 91.97,233.27" fill="none" stroke="#111" stroke-width="0.5" stroke-linejoin="round"/>
<polyline points="87.34,239.73 87.34,246.41" fill="none" stroke="#111" stroke-width="0.5" stroke-linejoin="round"/>
<polyline points="89.64,239.96 89.64,233.83" fill="none" stroke="#111" stroke-width="0.5" stroke-linejoin="round"/>
<polyline points="92.45,240.25 92.45,234.73" fill="none" stroke="#111" stroke-width="0.5" stroke-linejoin="round"/>
<polyline points="89.63,239.96 89.63,233.03" fill="none" stroke="#111" stroke-width="0.5" stroke-linejoin="round"/>
<polyline points="93.17,240.32 93.17,247.33" fill="none" stroke="#111" stroke-width="0.5" stroke-linejoin="round"/>
<polyline points="91.47,240.15 91.47,233.17" fill="none" stroke="#111" stroke-width="0.5" stroke-linejoin="round"/>
<polyline points="92.28,240.23 92.28,246.95" fill="none" stroke="#111" stroke-width="0.5" stroke-linejoin="round"/>
<polygon points="95.00,234.74 95.51,233.29 96.02,234.28 96.53,233.84 97.04,233.34 97.55,233.29 98.06,232.81 98.58,233.70 99.09,233.35 99.60,233.48 100.11,234.62 100.62,234.14 101.13,234.12 101.64,234.92 102.15,232.84 102.66,233.60 103.17,232.46 103.68,233.26 104.19,234.74 104.70,232.39 105.21,234.19 105.72,234.46 106.24,233.48 106.75,234.24 107.26,233.26 107.77,233.01 108.28,233.40 108.79,232.54 109.30,232.83 109.30,242.75 108.79,242.26 108.28,243.76 107.77,243.54 107.26,243.16 106.75,241.54 106.24,244.00 105.72,243.69 105.21,242.65 104.70,243.77 104.19,242.23 103.68,241.52 103.17,242.77 102.66,241.74 102.15,243.15 101.64,243.33 101.13,244.01 100.62,244.02 100.11,243.79 99.60,243.18 99.09,242.61 98.58,242.07 98.06,241.79 97.55,244.04 97.04,241.89 96.53,243.83 96.02,243.56 95.51,241.81 95.00,243.68" fill="#000"/>
<polyline points="95.17,238.49 95.17,244.08" fill="none" stroke="#111" stroke-width="0.5" stroke-linejoin="round"/>
<polyline points="106.16,238.11 106.16,231.96" fill="none" stroke="#111" stroke-width="0.5" stroke-linejoin="round"/>
<polyline points="101.54,238.27 101.54,245.33" fill="none" stroke="#111" stroke-width="0.5" stroke-linejoin="round"/>
<polyline points="106.41,238.10 106.41,232.04" fill="none" stroke="#111" stroke-width="0.5" stroke-linejoin="round"/>
<polyline points="98.35,238.38 98.35,232.92" fill="none" stroke="#111" stroke-width="0.5" stroke-linejoin="round"/>
<polyline points="98.55,238.38 98.55,244.94" fill="none" stroke="#111" stroke-width="0.5" stroke-linejoin="round"/>
<polyline points="107.20,238.07 107.20,243.78" fill="none" stroke="#111" stroke-width="0.5" stroke-linejoin="round"/>
<polyline points="100.59,238.30 100.59,232.64" fill="none" stroke="#111" stroke-width="0.5" stroke-linejoin="round"/>
<polyline points="101.03,238.29 101.03,243.52" fill="none" stroke="#111" stroke-width="0.5" stroke-linejoin="round"/>
<polyline points="98.96,238.36 98.96,231.93" fill="none" stroke="#111" stroke-width="0.5" stroke-linejoin="round"/>
<polyline points="104.24,238.18 104.24,243.46" fill="none" stroke="#111" stroke-width="0.5" stroke-linejoin="round"/>
<polyline points="97.58,238.41 97.58,232.77" fill="none" stroke="#111" stroke-width="0.5" stroke-linejoin="round"/>
<polyline points="105.80,238.12 105.80,244.56" fill="none" stroke="#111" stroke-width="0.5" stroke-linejoin="round"/>
<polyline points="95.47,238.48 95.47,231.80" fill="none" stroke="#111" stroke-width="0.5" stroke-linejoin="round"/>
<polyline points="108.22,238.04 108.22,243.81" fill="none" stroke="#111" stroke-width="0.5" stroke-linejoin="round"/>
<polyline points="100.08,238.32 100.08,245.13" fill="none" stroke="#111" stroke-width="0.5" stroke-linejoin="round"/>
<polyline points="99.87,238.33 99.87,233.25" fill="none" stroke="#111" stroke-width="0.5" stroke-linejoin="round"/>
<polyline points="96.97,238.43 96.97,244.76" fill="none" stroke="#111" stroke-width="0.5" stroke-linejoin="round"/>
<polyline points="109.17,238.00 109.17,232.20" fill="none" stroke="#111" stroke-width="0.5" stroke-linejoin="round"/>
<polyline points="106.38,238.10 106.38,243.31" fill="none" stroke="#111" stroke-width="0.5" stroke-linejoin="round"/>
<polyline points="100.74,238.30 100.74,244.75" fill="none" stroke="#111" stroke-width="0.5" stroke-linejoin="round"/>
<polygon points="109.30,232.05 109.85,231.28 110.40,232.24 110.95,231.08 111.50,231.16 112.05,230.52 112.60,229.43 112.60,236.10 112.05,236.50 111.50,236.68 110.95,237.37 110.40,237.72 109.85,238.26 109.30,238.31" fill="#000"/>
<polyline points="112.00,233.37 112.00,230.04" fill="none" stroke="#111" stroke-width="0.5" stroke-linejoin="round"/>
<polyline points="111.97,233.38 111.97,237.38" fill="none" stroke="#111" stroke-width="0.5" stroke-linejoin="round"/>
<polyline points="110.18,234.47 110.18,238.03" fill="none" stroke="#111" stroke-width="0.5" stroke-linejoin="round"/>
<polyline points="112.13,233.28 112.13,237.05" fill="none" stroke="#111" stroke-width="0.5" stroke-linejoin="round"/>
<polygon points="113.10,219.95 113.62,221.54 114.13,220.45 114.65,221.11 115.17,221.48 115.68,221.37 116.20,221.49 116.72,220.80 117.23,221.45 117.75,220.75 118.27,220.39 118.78,220.79 119.30,220.52 119.30,227.41 118.78,227.60 118.27,226.85 117.75,226.75 117.23,226.32 116.72,226.36 116.20,226.34 115.68,227.25 115.17,227.39 114.65,227.80 114.13,227.84 113.62,226.57 113.10,226.68" fill="#000"/>
<polyline points="113.12,224.00 113.12,228.01" fill="none" stroke="#111" stroke-width="0.5" stroke-linejoin="round"/>
<polyline points="113.59,224.00 113.59,219.89" fill="none" stroke="#111" stroke-width="0.5" stroke-linejoin="round"/>
<polyline points="117.59,224.00 117.59,220.08" fill="none" stroke="#111" stroke-width="0.5" stroke-linejoin="round"/>
<polyline points="118.66,224.00 118.66,228.72" fill="none" stroke="#111" stroke-width="0.5" stroke-linejoin="round"/>
<polyline points="116.57,224.00 116.57,218.79" fill="none" stroke="#111" stroke-width="0.5" stroke-linejoin="round"/>
<polyline points="117.82,224.00 117.82,227.78" fill="none" stroke="#111" stroke-width="0.5" stroke-linejoin="round"/>
<polyline points="114.44,224.00 114.44,219.88" fill="none" stroke="#111" stroke-width="0.5" stroke-linejoin="round"/>
<polyline points="113.48,224.00 113.48,219.64" fill="none" stroke="#111" stroke-width="0.5" stroke-linejoin="round"/>
<polyline points="114.88,224.00 114.88,219.88" fill="none" stroke="#111" stroke-width="0.5" stroke-linejoin="round"/>
<polygon points="119.90,209.35 120.41,209.84 120.91,209.61 121.42,209.04 121.92,210.23 122.43,209.69 122.93,209.60 123.44,210.12 123.94,210.21 124.45,210.41 124.96,210.35 125.46,210.09 125.97,210.21 126.47,209.10 126.98,210.19 127.48,209.33 127.99,209.35 128.49,209.09 129.00,209.65 129.51,208.92 130.01,210.20 130.52,210.39 131.02,210.46 131.53,209.20 132.03,210.22 132.54,210.63 133.04,209.06 133.55,209.38 134.06,209.55 134.56,209.94 135.07,209.39 135.57,210.13 136.08,209.76 136.58,210.39 137.09,210.16 137.59,210.48 138.10,209.62 138.61,210.55 139.11,210.62 139.62,210.61 140.12,209.33 140.63,211.08 141.13,210.36 141.64,209.78 142.14,210.11 142.65,210.29 143.16,210.31 143.66,209.79 144.17,209.84 144.67,210.05 145.18,210.89 145.68,210.22 146.19,209.45 146.69,210.28 147.20,209.80 147.20,217.71 146.69,217.66 146.19,217.59 145.68,217.84 145.18,217.34 144.67,217.23 144.17,217.15 143.66,217.11 143.16,217.16 142.65,216.52 142.14,217.10 141.64,217.05 141.13,216.86 140.63,217.82 140.12,217.49 139.62,216.32 139.11,216.51 138.61,217.55 138.10,216.19 137.59,217.60 137.09,216.51 136.58,217.50 136.08,216.21 135.57,217.56 135.07,216.56 134.56,217.01 134.06,217.72 133.55,217.35 133.04,215.82 132.54,217.20 132.03,217.22 131.53,217.69 131.02,216.06 130.52,216.82 130.01,216.93 129.51,216.29 129.00,216.65 128.49,217.20 127.99,217.60 127.48,216.29 126.98,216.10 126.47,216.04 125.97,216.27 125.46,217.23 124.96,216.81 124.45,216.71 123.94,217.15 123.44,215.65 122.93,215.71 122.43,217.37 121.92,216.75 121.42,216.38 120.91,216.85 120.41,215.48 119.90,217.38" fill="#000"/>
<polyline points="141.27,213.63 141.27,209.50" fill="none" stroke="#111" stroke-width="0.5" stroke-linejoin="round"/>
<polyline points="134.27,213.42 134.27,209.23" fill="none" stroke="#111" stroke-width="0.5" stroke-linejoin="round"/>
<polyline points="130.09,213.30 130.09,218.36" fill="none" stroke="#111" stroke-width="0.5" stroke-linejoin="round"/>
<polyline points="146.44,213.78 146.44,218.35" fill="none" stroke="#111" stroke-width="0.5" stroke-linejoin="round"/>
<polyline points="132.23,213.36 132.23,209.17" fill="none" stroke="#111" stroke-width="0.5" stroke-linejoin="round"/>
<polyline points="145.88,213.76 145.88,209.64" fill="none" stroke="#111" stroke-width="0.5" stroke-linejoin="round"/>
<polyline points="137.97,213.53 137.97,217.80" fill="none" stroke="#111" stroke-width="0.5" stroke-linejoin="round"/>
<polyline points="145.48,213.75 145.48,208.84" fill="none" stroke="#111" stroke-width="0.5" stroke-linejoin="round"/>
<polyline points="122.39,213.07 122.39,216.99" fill="none" stroke="#111" stroke-width="0.5" stroke-linejoin="round"/>
<polyline points="130.66,213.32 130.66,218.92" fill="none" stroke="#111" stroke-width="0.5" stroke-linejoin="round"/>
<polyline points="144.58,213.72 144.58,217.90" fill="none" stroke="#111" stroke-width="0.5" stroke-linejoin="round"/>
<polyline points="120.77,213.03 120.77,209.18" fill="none" stroke="#111" stroke-width="0.5" stroke-linejoin="round"/>
<polyline points="146.12,213.77 146.12,209.40" fill="none" stroke="#111" stroke-width="0.5" stroke-linejoin="round"/>
<polyline points="125.45,213.16 125.45,208.45" fill="none" stroke="#111" stroke-width="0.5" stroke-linejoin="round"/>
<polyline points="121.98,213.06 121.98,218.15" fill="none" stroke="#111" stroke-width="0.5" stroke-linejoin="round"/>
<polyline points="130.00,213.30 130.00,218.60" fill="none" stroke="#111" stroke-width="0.5" stroke-linejoin="round"/>
<polyline points="128.81,213.26 128.81,218.83" fill="none" stroke="#111" stroke-width="0.5" stroke-linejoin="round"/>
<polyline points="136.82,213.50 136.82,207.98" fill="none" stroke="#111" stroke-width="0.5" stroke-linejoin="round"/>
<polyline points="145.64,213.75 145.64,209.87" fill="none" stroke="#111" stroke-width="0.5" stroke-linejoin="round"/>
<polyline points="143.59,213.69 143.59,217.87" fill="none" stroke="#111" stroke-width="0.5" stroke-linejoin="round"/>
<polyline points="135.38,213.45 135.38,207.90" fill="none" stroke="#111" stroke-width="0.5" stroke-linejoin="round"/>
<polyline points="129.24,213.27 129.24,209.47" fill="none" stroke="#111" stroke-width="0.5" stroke-linejoin="round"/>
<polyline points="129.25,213.27 129.25,217.43" fill="none" stroke="#111" stroke-width="0.5" stroke-linejoin="round"/>
<polyline points="132.40,213.37 132.40,217.09" fill="none" stroke="#111" stroke-width="0.5" stroke-linejoin="round"/>
<polyline points="127.96,213.24 127.96,217.14" fill="none" stroke="#111" stroke-width="0.5" stroke-linejoin="round"/>
<polyline points="145.24,213.74 145.24,217.74" fill="none" stroke="#111" stroke-width="0.5" stroke-linejoin="round"/>
<polyline points="136.07,213.47 136.07,218.58" fill="none" stroke="#111" stroke-width="0.5" stroke-linejoin="round"/>
<polyline points="128.28,213.25 128.28,209.05" fill="none" stroke="#111" stroke-width="0.5" stroke-linejoin="round"/>
<polyline points="127.87,213.23 127.87,207.71" fill="none" stroke="#111" stroke-width="0.5" stroke-linejoin="round"/>
<polyline points="144.13,213.71 144.13,208.61" fill="none" stroke="#111" stroke-width="0.5" stroke-linejoin="round"/>
<polyline points="133.28,213.39 133.28,208.98" fill="none" stroke="#111" stroke-width="0.5" stroke-linejoin="round"/>
<polyline points="146.25,213.77 146.25,208.90" fill="none" stroke="#111" stroke-width="0.5" stroke-linejoin="round"/>
<polyline points="145.70,213.76 145.70,208.42" fill="none" stroke="#111" stroke-width="0.5" stroke-linejoin="round"/>
<polyline points="123.01,213.09 123.01,218.42" fill="none" stroke="#111" stroke-width="0.5" stroke-linejoin="round"/>
<polyline points="142.76,213.67 142.76,218.81" fill="none" stroke="#111" stroke-width="0.5" stroke-linejoin="round"/>
<polyline points="146.58,213.78 146.58,209.02" fill="none" stroke="#111" stroke-width="0.5" stroke-linejoin="round"/>
<polyline points="125.74,213.17 125.74,208.58" fill="none" stroke="#111" stroke-width="0.5" stroke-linejoin="round"/>
<polyline points="139.55,213.58 139.55,217.32" fill="none" stroke="#111" stroke-width="0.5" stroke-linejoin="round"/>
<polyline points="145.62,213.75 145.62,209.45" fill="none" stroke="#111" stroke-width="0.5" stroke-linejoin="round"/>
<polyline points="142.62,213.67 142.62,218.85" fill="none" stroke="#111" stroke-width="0.5" stroke-linejoin="round"/>
<polyline points="56.80,269.00 57.10,259.80 57.60,253.50 58.00,259.80" fill="none" stroke="#000" stroke-width="0.6" stroke-linejoin="round"/>
<polyline points="78.40,251.00 78.80,231.50 79.30,237.00" fill="none" stroke="#000" stroke-width="0.6" stroke-linejoin="round"/>
<polyline points="108.80,238.00 109.20,230.50 109.60,236.00" fill="none" stroke="#000" stroke-width="0.6" stroke-linejoin="round"/>
<polyline points="112.60,233.00 113.00,218.50 113.40,224.00" fill="none" stroke="#000" stroke-width="0.6" stroke-linejoin="round"/>
<polyline points="119.30,224.00 119.70,207.50 120.10,213.00" fill="none" stroke="#000" stroke-width="0.6" stroke-linejoin="round"/>
<polyline points="127.30,213.00 127.50,204.30 127.80,213.00" fill="none" stroke="#000" stroke-width="0.6" stroke-linejoin="round"/>
<text transform="translate(60.0 293.4) scale(1.0500 1)" font-size="13.6">100pA</text>
<polyline points="102.10,283.80 102.10,295.80" fill="none" stroke="#111" stroke-width="1.0" stroke-linejoin="round"/>
<polyline points="102.10,295.80 120.50,295.80" fill="none" stroke="#333" stroke-width="0.7" stroke-linejoin="round"/>
<text transform="translate(95.7 307.7) scale(1.0500 1)" font-size="13.6">5min</text>
<polyline points="379.00,301.50 379.90,300.00 379.90,295.00 386.00,295.00 386.60,290.60 387.60,285.90 390.40,285.90 391.00,280.70 394.20,280.70 394.80,270.30 423.30,270.30 424.00,262.00 425.40,256.30 426.60,251.00 429.60,251.00 430.20,245.80 432.60,245.80 433.00,244.60 435.00,244.60 435.60,238.90 439.20,238.90 439.80,233.90 441.60,233.90 442.20,228.40 447.60,228.40 448.40,223.10 454.80,223.10 455.00,218.00 456.00,218.00 456.50,212.60 465.00,212.60 465.50,210.80 469.10,210.80" fill="none" stroke="#333" stroke-width="0.55" stroke-linejoin="round"/>
<polygon points="378.50,299.54 378.97,299.59 379.43,299.75 379.90,299.55 379.90,301.82 379.43,302.00 378.97,301.87 378.50,301.86" fill="#000"/>
<polygon points="380.50,294.03 381.00,294.15 381.50,294.11 382.00,294.01 382.50,294.08 383.00,294.10 383.50,294.08 384.00,293.94 384.50,294.23 385.00,294.22 385.50,293.91 386.00,294.21 386.00,296.01 385.50,295.80 385.00,295.87 384.50,295.83 384.00,296.08 383.50,295.92 383.00,295.83 382.50,295.86 382.00,295.96 381.50,295.83 381.00,296.06 380.50,295.92" fill="#000"/>
<polygon points="387.10,284.87 387.65,284.90 388.20,284.69 388.75,284.72 389.30,284.69 389.85,284.55 390.40,284.64 390.40,287.10 389.85,287.13 389.30,287.02 388.75,287.08 388.20,286.94 387.65,287.21 387.10,287.12" fill="#000"/>
<polygon points="391.50,279.66 392.04,279.54 392.58,279.59 393.12,279.52 393.66,279.58 394.20,279.71 394.20,281.85 393.66,281.66 393.12,282.01 392.58,281.77 392.04,281.84 391.50,281.94" fill="#000"/>
<polygon points="395.30,269.23 395.80,269.41 396.30,269.43 396.80,269.37 397.30,269.47 397.80,269.18 398.30,269.33 398.80,269.41 399.30,269.47 399.80,269.37 400.30,269.36 400.80,269.28 401.30,269.35 401.80,269.34 402.30,269.46 402.80,269.44 403.30,269.40 403.80,269.47 404.30,269.17 404.80,269.42 405.30,269.31 405.80,269.41 406.30,269.25 406.80,269.31 407.30,269.43 407.80,269.16 408.30,269.25 408.80,269.32 409.30,269.44 409.80,269.24 410.30,269.43 410.80,269.23 411.30,269.25 411.80,269.34 412.30,269.38 412.80,269.45 413.30,269.45 413.80,269.24 414.30,269.41 414.80,269.37 415.30,269.28 415.80,269.42 416.30,269.46 416.80,269.32 417.30,269.47 417.80,269.19 418.30,269.21 418.80,269.41 419.30,269.26 419.80,269.35 420.30,269.32 420.80,269.20 421.30,269.41 421.80,269.41 422.30,269.20 422.80,269.24 423.30,269.43 423.30,271.17 422.80,271.23 422.30,271.18 421.80,271.38 421.30,271.42 420.80,271.33 420.30,271.23 419.80,271.21 419.30,271.27 418.80,271.26 418.30,271.20 417.80,271.12 417.30,271.28 416.80,271.37 416.30,271.43 415.80,271.41 415.30,271.16 414.80,271.37 414.30,271.32 413.80,271.18 413.30,271.21 412.80,271.25 412.30,271.35 411.80,271.44 411.30,271.12 410.80,271.36 410.30,271.39 409.80,271.37 409.30,271.44 408.80,271.16 408.30,271.34 407.80,271.18 407.30,271.28 406.80,271.24 406.30,271.11 405.80,271.27 405.30,271.35 404.80,271.17 404.30,271.30 403.80,271.14 403.30,271.23 402.80,271.14 402.30,271.11 401.80,271.23 401.30,271.21 400.80,271.29 400.30,271.43 399.80,271.32 399.30,271.39 398.80,271.37 398.30,271.28 397.80,271.39 397.30,271.30 396.80,271.32 396.30,271.28 395.80,271.15 395.30,271.14" fill="#000"/>
<polygon points="424.80,254.92 425.40,255.28 426.00,255.06 426.00,257.47 425.40,257.45 424.80,257.31" fill="#000"/>
<polygon points="426.60,249.84 427.10,249.76 427.60,249.78 428.10,249.57 428.60,249.75 429.10,249.65 429.60,249.53 429.60,251.88 429.10,252.29 428.60,252.25 428.10,251.98 427.60,252.19 427.10,252.10 426.60,252.24" fill="#000"/>
<polygon points="430.20,244.44 430.80,244.53 431.40,244.39 432.00,244.39 432.60,244.48 432.60,247.05 432.00,246.85 431.40,246.92 430.80,247.28 430.20,246.94" fill="#000"/>
<polygon points="433.00,243.53 433.50,243.48 434.00,243.47 434.50,243.52 435.00,243.71 435.00,245.77 434.50,245.79 434.00,245.56 433.50,245.52 433.00,245.80" fill="#000"/>
<polygon points="435.60,237.73 436.11,237.70 436.63,237.54 437.14,237.79 437.66,237.49 438.17,237.59 438.69,237.45 439.20,237.69 439.20,240.31 438.69,240.13 438.17,240.07 437.66,240.10 437.14,240.17 436.63,240.06 436.11,240.32 435.60,240.36" fill="#000"/>
<polygon points="439.80,232.64 440.40,232.36 441.00,232.43 441.60,232.52 441.60,235.14 441.00,235.19 440.40,235.45 439.80,235.45" fill="#000"/>
<polygon points="442.20,227.24 442.74,227.25 443.28,227.18 443.82,227.30 444.36,227.33 444.90,227.46 445.44,227.12 445.98,227.45 446.52,227.49 447.06,227.24 447.60,227.38 447.60,229.68 447.06,229.40 446.52,229.37 445.98,229.69 445.44,229.51 444.90,229.66 444.36,229.36 443.82,229.46 443.28,229.59 442.74,229.45 442.20,229.38" fill="#000"/>
<polygon points="448.40,221.86 448.93,221.83 449.47,221.56 450.00,221.75 450.53,221.83 451.07,221.66 451.60,221.74 452.13,221.97 452.67,221.81 453.20,221.74 453.73,221.53 454.27,221.56 454.80,221.91 454.80,224.66 454.27,224.69 453.73,224.60 453.20,224.38 452.67,224.47 452.13,224.46 451.60,224.54 451.07,224.35 450.53,224.45 450.00,224.42 449.47,224.42 448.93,224.30 448.40,224.34" fill="#000"/>
<polygon points="455.00,216.68 455.50,216.96 456.00,216.90 456.00,219.36 455.50,219.21 455.00,219.09" fill="#000"/>
<polygon points="456.50,211.44 457.00,211.60 457.50,211.46 458.00,211.51 458.50,211.40 459.00,211.31 459.50,211.50 460.00,211.45 460.50,211.39 461.00,211.35 461.50,211.53 462.00,211.38 462.50,211.48 463.00,211.36 463.50,211.56 464.00,211.40 464.50,211.44 465.00,211.63 465.00,213.64 464.50,213.72 464.00,213.85 463.50,213.89 463.00,213.63 462.50,213.55 462.00,213.90 461.50,213.65 461.00,213.73 460.50,213.61 460.00,213.68 459.50,213.59 459.00,213.55 458.50,213.79 458.00,213.61 457.50,213.81 457.00,213.65 456.50,213.66" fill="#000"/>
<polygon points="465.50,209.37 466.01,209.73 466.53,209.46 467.04,209.75 467.56,209.64 468.07,209.52 468.59,209.46 469.10,209.34 469.10,211.88 468.59,212.17 468.07,211.88 467.56,212.14 467.04,211.89 466.53,211.95 466.01,212.02 465.50,212.26" fill="#000"/>
<text transform="translate(403.3 291.8) scale(1.0500 1)" font-size="13.6">100pA</text>
<polyline points="445.30,281.20 445.30,295.90" fill="none" stroke="#111" stroke-width="1.0" stroke-linejoin="round"/>
<polyline points="445.30,295.90 464.00,295.90" fill="none" stroke="#333" stroke-width="0.7" stroke-linejoin="round"/>
<text transform="translate(442.6 308.7) scale(1.0600 1)" font-size="13.6">50s</text>
<polygon points="76.70,482.29 77.20,481.22 77.70,482.21 78.20,481.99 78.70,481.99 79.20,482.19 79.70,481.76 80.20,481.72 80.70,481.53 81.20,482.23 81.70,482.28 82.20,481.25 82.70,482.10 83.20,481.41 83.70,481.28 84.20,481.31 84.70,481.83 85.20,481.42 85.70,481.37 86.20,481.17 86.70,481.49 87.20,482.12 87.70,481.07 88.20,481.72 88.70,481.89 89.20,481.12 89.70,481.46 90.20,482.32 90.70,482.45 91.20,482.25 91.70,481.30 92.20,482.13 92.70,481.69 93.20,481.30 93.70,481.74 94.20,482.36 94.70,482.30 95.20,481.62 95.70,481.16 96.20,482.34 96.70,482.46 97.20,481.80 97.70,481.40 98.20,481.84 98.70,482.06 99.20,481.76 99.70,481.58 100.20,481.44 100.70,481.51 101.20,481.16 101.70,481.45 102.20,482.43 102.70,481.11 103.20,482.12 103.70,482.21 104.20,481.67 104.70,481.94 105.20,481.42 105.70,482.05 106.20,482.10 106.70,482.14 107.20,481.81 107.70,482.48 108.20,482.33 108.70,481.92 109.20,482.08 109.70,481.51 110.20,482.45 110.70,482.03 111.20,482.39 111.70,481.54 112.20,482.51 112.70,481.29 113.20,481.88 113.70,481.30 114.20,481.41 114.70,482.22 115.20,481.24 115.70,481.69 116.20,481.42 116.70,482.34 117.20,481.27 117.70,481.63 118.20,482.36 118.70,482.12 119.20,482.15 119.70,482.55 120.20,481.20 120.70,482.10 121.20,482.21 121.70,482.22 122.20,482.18 122.70,481.28 123.20,481.30 123.70,482.26 124.20,482.04 124.70,481.55 125.20,481.20 125.70,481.94 126.20,481.32 126.70,482.24 127.20,481.67 127.70,482.33 128.20,481.33 128.70,481.89 129.20,481.34 129.70,482.30 130.20,481.99 130.70,481.54 131.20,482.56 131.70,482.17 132.20,481.69 132.70,482.41 133.20,481.75 133.70,482.54 134.20,481.64 134.70,482.60 135.20,481.31 135.70,482.26 136.20,481.64 136.70,481.82 137.20,482.12 137.70,481.30 138.20,481.55 138.70,481.38 139.20,482.28 139.70,481.55 140.20,481.94 140.70,481.71 141.20,481.58 141.70,482.56 142.20,481.96 142.70,482.17 143.20,482.24 143.70,482.41 144.20,481.63 144.70,481.37 145.20,481.92 145.70,481.50 146.20,481.30 146.70,482.56 147.20,482.15 147.70,481.85 148.20,481.47 148.70,482.34 149.20,482.03 149.70,481.53 150.20,482.66 150.70,482.62 151.20,482.59 151.70,482.45 152.20,482.04 152.70,481.71 153.20,482.21 153.70,481.51 154.20,482.16 154.70,481.39 155.20,481.32 155.70,482.31 156.20,481.79 156.70,482.28 157.20,482.40 157.70,482.48 158.20,482.18 158.70,482.50 159.20,482.24 159.70,482.62 160.20,482.58 160.70,481.38 161.20,481.70 161.70,481.87 162.20,481.68 162.70,481.58 163.20,482.56 163.70,481.37 164.20,481.59 164.70,482.40 165.20,481.65 165.70,481.71 166.20,482.70 166.70,482.41 167.20,481.98 167.70,481.54 168.20,481.73 168.70,482.73 169.20,482.46 169.70,481.46 170.20,482.35 170.70,481.89 171.20,482.37 171.70,481.78 172.20,481.55 172.70,481.40 173.20,481.79 173.70,482.58 174.20,482.62 174.70,482.33 175.20,482.43 175.70,481.65 176.20,481.88 176.70,482.64 177.20,482.77 177.70,482.01 178.20,482.48 178.70,482.70 179.20,482.79 179.70,481.81 180.20,482.32 180.70,481.95 181.20,482.05 181.70,482.05 182.20,481.80 182.70,481.44 183.20,482.48 183.70,482.39 184.20,482.59 184.70,481.63 185.20,481.75 185.70,482.26 186.20,482.73 186.70,482.08 187.20,481.71 187.70,482.26 188.20,482.77 188.70,482.65 189.20,482.69 189.70,482.01 190.20,481.81 190.70,482.66 191.20,482.55 191.70,482.64 192.20,481.99 192.70,481.85 193.20,481.79 193.70,482.67 194.20,482.74 194.70,481.97 195.20,482.68 195.70,481.99 196.20,482.09 196.70,482.26 197.20,481.77 197.70,481.84 198.20,481.84 198.70,481.83 199.20,482.19 199.70,481.62 200.20,482.57 200.70,481.72 201.20,482.10 201.70,482.38 202.20,481.68 202.70,482.06 203.20,482.28 203.70,482.26 204.20,482.74 204.70,482.59 205.20,481.67 205.70,482.66 206.20,482.27 206.70,482.45 207.20,481.73 207.70,482.17 208.20,482.49 208.70,482.63 209.20,482.64 209.70,481.82 210.20,482.68 210.70,482.31 211.20,482.46 211.70,482.71 212.20,482.09 212.70,482.81 213.20,482.76 213.70,482.66 214.20,482.06 214.70,482.27 215.20,481.78 215.70,482.60 216.20,482.79 216.70,481.77 217.20,482.58 217.70,482.52 218.20,481.60 218.70,482.83 219.20,482.22 219.70,481.93 220.20,481.60 220.70,482.65 221.20,482.03 221.70,482.28 222.20,481.83 222.70,482.41 223.20,482.12 223.70,482.70 224.20,482.50 224.70,482.58 225.20,481.92 225.70,481.66 226.20,482.81 226.70,482.89 227.20,482.48 227.70,482.87 228.20,482.57 228.70,482.43 229.20,482.18 229.70,482.09 230.20,482.28 230.70,481.91 231.20,482.19 231.70,482.31 232.20,481.64 232.20,489.49 231.70,488.26 231.20,488.77 230.70,489.38 230.20,489.59 229.70,488.50 229.20,488.23 228.70,488.30 228.20,488.44 227.70,488.96 227.20,489.01 226.70,488.71 226.20,489.55 225.70,489.44 225.20,488.43 224.70,488.72 224.20,489.25 223.70,489.47 223.20,489.49 222.70,488.89 222.20,488.35 221.70,489.15 221.20,488.63 220.70,488.50 220.20,489.41 219.70,488.74 219.20,488.24 218.70,488.37 218.20,488.99 217.70,488.32 217.20,489.09 216.70,489.29 216.20,488.52 215.70,488.85 215.20,488.58 214.70,488.85 214.20,488.74 213.70,488.63 213.20,488.35 212.70,488.77 212.20,488.25 211.70,488.87 211.20,489.05 210.70,489.07 210.20,488.63 209.70,488.60 209.20,489.22 208.70,489.18 208.20,488.71 207.70,488.29 207.20,489.48 206.70,488.54 206.20,489.15 205.70,489.22 205.20,489.07 204.70,488.54 204.20,489.39 203.70,488.19 203.20,489.48 202.70,489.41 202.20,489.35 201.70,488.12 201.20,488.32 200.70,489.25 200.20,488.87 199.70,489.18 199.20,489.08 198.70,489.00 198.20,488.88 197.70,488.30 197.20,488.89 196.70,488.19 196.20,488.80 195.70,488.94 195.20,488.15 194.70,488.45 194.20,488.35 193.70,489.37 193.20,488.60 192.70,488.78 192.20,489.32 191.70,488.26 191.20,488.45 190.70,488.67 190.20,488.18 189.70,488.51 189.20,488.06 188.70,488.46 188.20,488.21 187.70,488.81 187.20,488.51 186.70,488.30 186.20,489.04 185.70,488.80 185.20,488.49 184.70,488.25 184.20,488.81 183.70,489.05 183.20,488.67 182.70,489.14 182.20,488.37 181.70,489.11 181.20,489.29 180.70,488.36 180.20,488.63 179.70,488.47 179.20,488.39 178.70,488.40 178.20,488.45 177.70,488.47 177.20,489.23 176.70,489.28 176.20,488.40 175.70,488.95 175.20,488.96 174.70,489.21 174.20,489.22 173.70,489.28 173.20,488.65 172.70,489.20 172.20,488.55 171.70,488.89 171.20,488.09 170.70,488.01 170.20,488.13 169.70,488.54 169.20,488.62 168.70,489.09 168.20,489.00 167.70,488.21 167.20,487.97 166.70,488.11 166.20,489.16 165.70,488.70 165.20,487.99 164.70,489.32 164.20,488.96 163.70,488.77 163.20,489.12 162.70,488.49 162.20,488.15 161.70,488.49 161.20,489.16 160.70,488.88 160.20,488.09 159.70,489.27 159.20,489.20 158.70,488.86 158.20,488.04 157.70,488.59 157.20,488.79 156.70,488.84 156.20,488.32 155.70,488.64 155.20,488.28 154.70,489.26 154.20,487.95 153.70,488.92 153.20,489.25 152.70,488.63 152.20,488.52 151.70,488.66 151.20,488.67 150.70,488.84 150.20,488.98 149.70,489.28 149.20,488.97 148.70,488.59 148.20,487.95 147.70,488.81 147.20,487.88 146.70,488.93 146.20,489.24 145.70,488.37 145.20,488.41 144.70,488.59 144.20,488.17 143.70,488.41 143.20,489.04 142.70,489.19 142.20,489.18 141.70,488.01 141.20,488.60 140.70,488.52 140.20,488.92 139.70,488.90 139.20,488.69 138.70,487.88 138.20,488.93 137.70,487.92 137.20,488.52 136.70,488.66 136.20,487.98 135.70,489.14 135.20,488.97 134.70,487.90 134.20,488.57 133.70,487.89 133.20,488.68 132.70,489.12 132.20,487.88 131.70,488.14 131.20,488.08 130.70,488.33 130.20,487.90 129.70,488.56 129.20,488.75 128.70,488.26 128.20,489.13 127.70,489.07 127.20,488.93 126.70,488.63 126.20,488.60 125.70,488.66 125.20,488.27 124.70,488.80 124.20,489.03 123.70,488.49 123.20,487.92 122.70,488.41 122.20,488.09 121.70,487.97 121.20,488.03 120.70,488.59 120.20,488.03 119.70,487.88 119.20,488.38 118.70,488.52 118.20,488.44 117.70,488.76 117.20,488.30 116.70,488.90 116.20,488.37 115.70,487.75 115.20,488.12 114.70,488.08 114.20,487.94 113.70,488.90 113.20,488.70 112.70,488.26 112.20,488.27 111.70,487.93 111.20,488.83 110.70,488.54 110.20,488.85 109.70,487.98 109.20,488.76 108.70,488.25 108.20,488.80 107.70,487.78 107.20,488.92 106.70,488.49 106.20,487.88 105.70,487.76 105.20,487.91 104.70,487.88 104.20,488.29 103.70,488.38 103.20,488.76 102.70,489.00 102.20,488.80 101.70,487.93 101.20,488.82 100.70,489.09 100.20,488.73 99.70,488.33 99.20,488.11 98.70,488.15 98.20,488.74 97.70,488.09 97.20,488.48 96.70,488.20 96.20,487.85 95.70,487.83 95.20,488.99 94.70,487.79 94.20,488.19 93.70,487.75 93.20,488.07 92.70,488.90 92.20,489.03 91.70,488.00 91.20,488.17 90.70,487.67 90.20,488.46 89.70,487.92 89.20,488.05 88.70,488.68 88.20,488.04 87.70,488.74 87.20,488.10 86.70,488.42 86.20,488.70 85.70,487.77 85.20,488.20 84.70,487.89 84.20,488.18 83.70,487.82 83.20,487.68 82.70,489.01 82.20,488.77 81.70,487.69 81.20,487.84 80.70,488.49 80.20,488.65 79.70,488.15 79.20,488.08 78.70,488.15 78.20,487.87 77.70,488.12 77.20,488.60 76.70,488.45" fill="#000"/>
<polygon points="76.70,455.06 77.60,457.63 78.50,458.03 79.40,457.83 80.30,458.53 81.20,459.75 82.10,461.41 83.00,472.22 83.90,471.78 84.80,472.85 85.70,472.56 86.60,453.68 87.50,450.03 88.40,455.13 89.30,460.94 90.20,463.64 91.10,464.22 92.00,462.59 92.90,462.78 93.80,454.77 94.70,453.40 95.60,455.81 96.50,456.38 97.40,460.50 98.30,463.42 99.20,461.60 100.10,460.12 101.00,456.04 101.90,455.59 102.80,457.07 103.70,456.77 104.60,473.52 105.50,475.07 106.40,474.84 107.30,474.25 108.20,474.49 109.10,474.33 110.00,474.71 110.90,466.71 111.80,466.79 112.70,466.92 113.60,466.44 114.50,463.42 115.40,464.81 116.30,452.33 117.20,439.31 118.10,439.33 119.00,445.22 119.90,463.81 120.80,464.60 121.70,463.28 122.60,464.70 123.50,451.92 124.40,453.73 125.30,450.84 126.20,451.22 127.10,456.06 128.00,458.24 128.90,465.20 129.80,470.87 130.70,476.94 131.00,487.50 76.70,487.50" fill="#000"/>
<polygon points="151.60,464.80 152.50,461.93 153.40,463.26 154.30,462.94 155.20,465.16 156.10,466.72 157.00,467.40 157.90,469.44 158.80,470.73 159.70,470.46 160.60,462.51 161.50,459.21 162.40,460.39 163.30,459.78 164.20,463.78 165.10,468.04 166.00,466.23 166.00,487.50 151.60,487.50" fill="#000"/>
<polyline points="123.58,455.94 123.69,446.60" fill="none" stroke="#1a1a1a" stroke-width="0.5" stroke-linejoin="round"/>
<polyline points="126.43,455.50 126.31,434.73" fill="none" stroke="#1a1a1a" stroke-width="0.5" stroke-linejoin="round"/>
<polyline points="80.77,463.16 80.74,448.04" fill="none" stroke="#1a1a1a" stroke-width="0.5" stroke-linejoin="round"/>
<polyline points="125.38,454.49 125.59,438.56" fill="none" stroke="#1a1a1a" stroke-width="0.5" stroke-linejoin="round"/>
<polyline points="79.50,461.80 79.46,449.29" fill="none" stroke="#1a1a1a" stroke-width="0.5" stroke-linejoin="round"/>
<polyline points="130.76,479.78 130.86,466.68" fill="none" stroke="#1a1a1a" stroke-width="0.5" stroke-linejoin="round"/>
<polyline points="96.51,461.04 96.67,454.12" fill="none" stroke="#1a1a1a" stroke-width="0.5" stroke-linejoin="round"/>
<polyline points="121.06,468.00 121.17,454.29" fill="none" stroke="#1a1a1a" stroke-width="0.5" stroke-linejoin="round"/>
<polyline points="115.27,468.00 115.21,460.14" fill="none" stroke="#1a1a1a" stroke-width="0.5" stroke-linejoin="round"/>
<polyline points="99.34,462.21 99.07,455.47" fill="none" stroke="#1a1a1a" stroke-width="0.5" stroke-linejoin="round"/>
<polyline points="100.54,460.58 100.73,451.50" fill="none" stroke="#1a1a1a" stroke-width="0.5" stroke-linejoin="round"/>
<polyline points="103.89,460.00 104.18,438.45" fill="none" stroke="#1a1a1a" stroke-width="0.5" stroke-linejoin="round"/>
<polyline points="125.67,454.26 125.78,437.48" fill="none" stroke="#1a1a1a" stroke-width="0.5" stroke-linejoin="round"/>
<polyline points="108.29,477.00 108.35,462.70" fill="none" stroke="#1a1a1a" stroke-width="0.5" stroke-linejoin="round"/>
<polyline points="96.28,460.13 96.13,453.82" fill="none" stroke="#1a1a1a" stroke-width="0.5" stroke-linejoin="round"/>
<polyline points="96.74,461.98 96.91,445.92" fill="none" stroke="#1a1a1a" stroke-width="0.5" stroke-linejoin="round"/>
<polyline points="85.60,475.00 85.79,469.17" fill="none" stroke="#1a1a1a" stroke-width="0.5" stroke-linejoin="round"/>
<polyline points="127.26,458.41 127.35,442.29" fill="none" stroke="#1a1a1a" stroke-width="0.5" stroke-linejoin="round"/>
<polyline points="99.10,463.05 99.30,457.92" fill="none" stroke="#1a1a1a" stroke-width="0.5" stroke-linejoin="round"/>
<polyline points="77.56,461.03 77.58,450.08" fill="none" stroke="#1a1a1a" stroke-width="0.5" stroke-linejoin="round"/>
<polyline points="98.50,465.20 98.53,459.32" fill="none" stroke="#1a1a1a" stroke-width="0.5" stroke-linejoin="round"/>
<polyline points="130.08,476.40 130.19,469.42" fill="none" stroke="#1a1a1a" stroke-width="0.5" stroke-linejoin="round"/>
<polyline points="116.81,444.18 116.83,425.44" fill="none" stroke="#1a1a1a" stroke-width="0.5" stroke-linejoin="round"/>
<polyline points="116.76,444.31 117.05,436.95" fill="none" stroke="#1a1a1a" stroke-width="0.5" stroke-linejoin="round"/>
<polyline points="130.79,479.97 130.78,470.95" fill="none" stroke="#1a1a1a" stroke-width="0.5" stroke-linejoin="round"/>
<polyline points="96.99,462.95 96.91,440.04" fill="none" stroke="#1a1a1a" stroke-width="0.5" stroke-linejoin="round"/>
<polyline points="105.17,477.00 104.91,457.70" fill="none" stroke="#1a1a1a" stroke-width="0.5" stroke-linejoin="round"/>
<polyline points="103.73,460.00 103.92,454.07" fill="none" stroke="#1a1a1a" stroke-width="0.5" stroke-linejoin="round"/>
<polyline points="123.67,455.86 123.91,450.70" fill="none" stroke="#1a1a1a" stroke-width="0.5" stroke-linejoin="round"/>
<polyline points="102.60,460.00 102.37,444.41" fill="none" stroke="#1a1a1a" stroke-width="0.5" stroke-linejoin="round"/>
<polyline points="81.54,464.31 81.78,455.64" fill="none" stroke="#1a1a1a" stroke-width="0.5" stroke-linejoin="round"/>
<polyline points="112.98,468.00 113.08,456.58" fill="none" stroke="#1a1a1a" stroke-width="0.5" stroke-linejoin="round"/>
<polyline points="88.35,456.11 88.59,450.32" fill="none" stroke="#1a1a1a" stroke-width="0.5" stroke-linejoin="round"/>
<polyline points="90.50,466.00 90.39,449.32" fill="none" stroke="#1a1a1a" stroke-width="0.5" stroke-linejoin="round"/>
<polyline points="96.75,461.99 96.51,445.58" fill="none" stroke="#1a1a1a" stroke-width="0.5" stroke-linejoin="round"/>
<polyline points="116.02,467.18 116.14,452.39" fill="none" stroke="#1a1a1a" stroke-width="0.5" stroke-linejoin="round"/>
<polyline points="93.36,459.48 93.07,443.82" fill="none" stroke="#1a1a1a" stroke-width="0.5" stroke-linejoin="round"/>
<polyline points="110.83,468.00 110.79,443.82" fill="none" stroke="#1a1a1a" stroke-width="0.5" stroke-linejoin="round"/>
<polyline points="87.68,453.42 87.87,434.05" fill="none" stroke="#1a1a1a" stroke-width="0.5" stroke-linejoin="round"/>
<polyline points="125.53,454.37 125.79,444.64" fill="none" stroke="#1a1a1a" stroke-width="0.5" stroke-linejoin="round"/>
<polyline points="126.75,456.64 126.70,438.06" fill="none" stroke="#1a1a1a" stroke-width="0.5" stroke-linejoin="round"/>
<polyline points="128.44,465.42 128.50,448.76" fill="none" stroke="#1a1a1a" stroke-width="0.5" stroke-linejoin="round"/>
<polyline points="80.55,462.82 80.61,453.00" fill="none" stroke="#1a1a1a" stroke-width="0.5" stroke-linejoin="round"/>
<polyline points="97.78,466.13 97.71,441.66" fill="none" stroke="#1a1a1a" stroke-width="0.5" stroke-linejoin="round"/>
<polyline points="111.33,468.00 111.47,459.54" fill="none" stroke="#1a1a1a" stroke-width="0.5" stroke-linejoin="round"/>
<polyline points="93.22,461.99 93.45,454.59" fill="none" stroke="#1a1a1a" stroke-width="0.5" stroke-linejoin="round"/>
<polyline points="128.45,465.54 128.41,452.74" fill="none" stroke="#1a1a1a" stroke-width="0.5" stroke-linejoin="round"/>
<polyline points="104.65,477.00 104.61,462.59" fill="none" stroke="#1a1a1a" stroke-width="0.5" stroke-linejoin="round"/>
<polyline points="99.72,461.60 99.84,451.07" fill="none" stroke="#1a1a1a" stroke-width="0.5" stroke-linejoin="round"/>
<polyline points="85.74,475.00 85.70,468.23" fill="none" stroke="#1a1a1a" stroke-width="0.5" stroke-linejoin="round"/>
<polyline points="100.99,460.01 100.99,439.32" fill="none" stroke="#1a1a1a" stroke-width="0.5" stroke-linejoin="round"/>
<polyline points="82.62,471.21 82.56,450.60" fill="none" stroke="#1a1a1a" stroke-width="0.5" stroke-linejoin="round"/>
<polyline points="95.07,458.25 95.27,438.89" fill="none" stroke="#1a1a1a" stroke-width="0.5" stroke-linejoin="round"/>
<polyline points="78.97,461.59 78.90,441.26" fill="none" stroke="#1a1a1a" stroke-width="0.5" stroke-linejoin="round"/>
<polyline points="105.29,477.00 105.39,452.20" fill="none" stroke="#1a1a1a" stroke-width="0.5" stroke-linejoin="round"/>
<polyline points="113.37,468.00 113.39,446.08" fill="none" stroke="#1a1a1a" stroke-width="0.5" stroke-linejoin="round"/>
<polyline points="100.06,461.17 99.77,450.72" fill="none" stroke="#1a1a1a" stroke-width="0.5" stroke-linejoin="round"/>
<polyline points="108.99,477.00 109.26,459.86" fill="none" stroke="#1a1a1a" stroke-width="0.5" stroke-linejoin="round"/>
<polyline points="92.11,466.00 92.40,453.00" fill="none" stroke="#1a1a1a" stroke-width="0.5" stroke-linejoin="round"/>
<polyline points="89.07,462.56 89.10,450.68" fill="none" stroke="#1a1a1a" stroke-width="0.5" stroke-linejoin="round"/>
<polyline points="82.76,472.58 82.89,453.75" fill="none" stroke="#1a1a1a" stroke-width="0.5" stroke-linejoin="round"/>
<polyline points="129.49,473.45 129.27,450.24" fill="none" stroke="#1a1a1a" stroke-width="0.5" stroke-linejoin="round"/>
<polyline points="119.99,468.00 119.84,453.41" fill="none" stroke="#1a1a1a" stroke-width="0.5" stroke-linejoin="round"/>
<polyline points="110.92,468.00 110.81,460.85" fill="none" stroke="#1a1a1a" stroke-width="0.5" stroke-linejoin="round"/>
<polyline points="122.15,468.00 121.95,453.19" fill="none" stroke="#1a1a1a" stroke-width="0.5" stroke-linejoin="round"/>
<polyline points="100.47,460.67 100.71,444.49" fill="none" stroke="#1a1a1a" stroke-width="0.5" stroke-linejoin="round"/>
<polyline points="99.75,461.57 100.03,449.52" fill="none" stroke="#1a1a1a" stroke-width="0.5" stroke-linejoin="round"/>
<polyline points="116.15,461.18 115.99,441.03" fill="none" stroke="#1a1a1a" stroke-width="0.5" stroke-linejoin="round"/>
<polyline points="117.49,442.35 117.69,427.66" fill="none" stroke="#1a1a1a" stroke-width="0.5" stroke-linejoin="round"/>
<polyline points="88.76,459.87 88.84,436.66" fill="none" stroke="#1a1a1a" stroke-width="0.5" stroke-linejoin="round"/>
<polyline points="93.52,457.02 93.24,448.32" fill="none" stroke="#1a1a1a" stroke-width="0.5" stroke-linejoin="round"/>
<polyline points="127.36,458.75 127.06,452.67" fill="none" stroke="#1a1a1a" stroke-width="0.5" stroke-linejoin="round"/>
<polyline points="82.04,465.39 82.27,452.73" fill="none" stroke="#1a1a1a" stroke-width="0.5" stroke-linejoin="round"/>
<polyline points="114.25,468.00 114.38,454.32" fill="none" stroke="#1a1a1a" stroke-width="0.5" stroke-linejoin="round"/>
<polyline points="116.47,446.45 116.45,430.62" fill="none" stroke="#1a1a1a" stroke-width="0.5" stroke-linejoin="round"/>
<polyline points="93.36,459.52 93.06,442.65" fill="none" stroke="#1a1a1a" stroke-width="0.5" stroke-linejoin="round"/>
<polyline points="91.12,466.00 90.99,443.42" fill="none" stroke="#1a1a1a" stroke-width="0.5" stroke-linejoin="round"/>
<polyline points="96.35,460.39 96.11,442.79" fill="none" stroke="#1a1a1a" stroke-width="0.5" stroke-linejoin="round"/>
<polyline points="105.94,477.00 105.67,465.02" fill="none" stroke="#1a1a1a" stroke-width="0.5" stroke-linejoin="round"/>
<polyline points="109.89,477.00 109.76,452.28" fill="none" stroke="#1a1a1a" stroke-width="0.5" stroke-linejoin="round"/>
<polyline points="120.08,468.00 120.09,444.69" fill="none" stroke="#1a1a1a" stroke-width="0.5" stroke-linejoin="round"/>
<polyline points="78.59,461.43 78.42,438.14" fill="none" stroke="#1a1a1a" stroke-width="0.5" stroke-linejoin="round"/>
<polyline points="104.32,470.99 104.13,454.59" fill="none" stroke="#1a1a1a" stroke-width="0.5" stroke-linejoin="round"/>
<polyline points="116.35,451.83 116.41,445.91" fill="none" stroke="#1a1a1a" stroke-width="0.5" stroke-linejoin="round"/>
<polyline points="78.69,461.48 78.64,456.15" fill="none" stroke="#1a1a1a" stroke-width="0.5" stroke-linejoin="round"/>
<polyline points="81.27,463.90 81.35,450.13" fill="none" stroke="#1a1a1a" stroke-width="0.5" stroke-linejoin="round"/>
<polyline points="81.34,464.02 81.57,451.65" fill="none" stroke="#1a1a1a" stroke-width="0.5" stroke-linejoin="round"/>
<polyline points="124.66,455.08 124.72,437.66" fill="none" stroke="#1a1a1a" stroke-width="0.5" stroke-linejoin="round"/>
<polyline points="99.72,461.59 99.83,451.72" fill="none" stroke="#1a1a1a" stroke-width="0.5" stroke-linejoin="round"/>
<polyline points="90.68,466.00 90.90,456.93" fill="none" stroke="#1a1a1a" stroke-width="0.5" stroke-linejoin="round"/>
<polyline points="97.66,465.65 97.81,454.05" fill="none" stroke="#1a1a1a" stroke-width="0.5" stroke-linejoin="round"/>
<polyline points="96.57,461.29 96.82,452.16" fill="none" stroke="#1a1a1a" stroke-width="0.5" stroke-linejoin="round"/>
<polyline points="89.80,466.00 90.03,455.50" fill="none" stroke="#1a1a1a" stroke-width="0.5" stroke-linejoin="round"/>
<polyline points="94.65,457.92 94.88,446.50" fill="none" stroke="#1a1a1a" stroke-width="0.5" stroke-linejoin="round"/>
<polyline points="130.84,480.18 131.03,458.25" fill="none" stroke="#1a1a1a" stroke-width="0.5" stroke-linejoin="round"/>
<polyline points="88.95,461.59 88.78,441.54" fill="none" stroke="#1a1a1a" stroke-width="0.5" stroke-linejoin="round"/>
<polyline points="121.59,468.00 121.43,458.88" fill="none" stroke="#1a1a1a" stroke-width="0.5" stroke-linejoin="round"/>
<polyline points="89.93,466.00 89.71,452.58" fill="none" stroke="#1a1a1a" stroke-width="0.5" stroke-linejoin="round"/>
<polyline points="104.01,460.28 104.09,454.17" fill="none" stroke="#1a1a1a" stroke-width="0.5" stroke-linejoin="round"/>
<polyline points="87.14,454.15 86.91,443.75" fill="none" stroke="#1a1a1a" stroke-width="0.5" stroke-linejoin="round"/>
<polyline points="86.79,454.62 87.05,442.15" fill="none" stroke="#1a1a1a" stroke-width="0.5" stroke-linejoin="round"/>
<polyline points="84.24,475.00 84.34,450.54" fill="none" stroke="#1a1a1a" stroke-width="0.5" stroke-linejoin="round"/>
<polyline points="119.84,468.00 119.93,455.44" fill="none" stroke="#1a1a1a" stroke-width="0.5" stroke-linejoin="round"/>
<polyline points="98.60,464.86 98.48,443.74" fill="none" stroke="#1a1a1a" stroke-width="0.5" stroke-linejoin="round"/>
<polyline points="120.32,468.00 120.31,445.76" fill="none" stroke="#1a1a1a" stroke-width="0.5" stroke-linejoin="round"/>
<polyline points="112.11,468.00 112.23,457.62" fill="none" stroke="#1a1a1a" stroke-width="0.5" stroke-linejoin="round"/>
<polyline points="89.82,466.00 89.65,442.75" fill="none" stroke="#1a1a1a" stroke-width="0.5" stroke-linejoin="round"/>
<polyline points="120.15,468.00 120.39,446.55" fill="none" stroke="#1a1a1a" stroke-width="0.5" stroke-linejoin="round"/>
<polyline points="120.41,468.00 120.37,447.69" fill="none" stroke="#1a1a1a" stroke-width="0.5" stroke-linejoin="round"/>
<polyline points="85.75,475.00 85.84,469.14" fill="none" stroke="#1a1a1a" stroke-width="0.5" stroke-linejoin="round"/>
<polyline points="165.51,470.34 165.73,462.04" fill="none" stroke="#1a1a1a" stroke-width="0.5" stroke-linejoin="round"/>
<polyline points="162.67,464.00 162.86,458.16" fill="none" stroke="#1a1a1a" stroke-width="0.5" stroke-linejoin="round"/>
<polyline points="159.75,474.20 159.70,456.83" fill="none" stroke="#1a1a1a" stroke-width="0.5" stroke-linejoin="round"/>
<polyline points="164.36,467.64 164.50,458.41" fill="none" stroke="#1a1a1a" stroke-width="0.5" stroke-linejoin="round"/>
<polyline points="159.59,474.28 159.62,469.05" fill="none" stroke="#1a1a1a" stroke-width="0.5" stroke-linejoin="round"/>
<polyline points="153.50,465.79 153.41,457.23" fill="none" stroke="#1a1a1a" stroke-width="0.5" stroke-linejoin="round"/>
<polyline points="155.02,469.01 155.12,444.78" fill="none" stroke="#1a1a1a" stroke-width="0.5" stroke-linejoin="round"/>
<polyline points="158.20,474.91 158.28,454.68" fill="none" stroke="#1a1a1a" stroke-width="0.5" stroke-linejoin="round"/>
<polyline points="161.29,464.00 161.38,458.98" fill="none" stroke="#1a1a1a" stroke-width="0.5" stroke-linejoin="round"/>
<polyline points="164.13,465.27 163.92,456.66" fill="none" stroke="#1a1a1a" stroke-width="0.5" stroke-linejoin="round"/>
<polyline points="158.94,474.57 158.99,454.46" fill="none" stroke="#1a1a1a" stroke-width="0.5" stroke-linejoin="round"/>
<polyline points="155.82,469.36 156.09,451.79" fill="none" stroke="#1a1a1a" stroke-width="0.5" stroke-linejoin="round"/>
<polyline points="163.76,464.00 163.74,457.58" fill="none" stroke="#1a1a1a" stroke-width="0.5" stroke-linejoin="round"/>
<polyline points="151.77,468.41 151.86,454.88" fill="none" stroke="#1a1a1a" stroke-width="0.5" stroke-linejoin="round"/>
<polyline points="157.94,474.59 157.84,466.03" fill="none" stroke="#1a1a1a" stroke-width="0.5" stroke-linejoin="round"/>
<polyline points="158.42,474.81 158.27,451.95" fill="none" stroke="#1a1a1a" stroke-width="0.5" stroke-linejoin="round"/>
<polyline points="154.17,465.93 154.45,443.73" fill="none" stroke="#1a1a1a" stroke-width="0.5" stroke-linejoin="round"/>
<polyline points="157.12,469.92 157.29,453.31" fill="none" stroke="#1a1a1a" stroke-width="0.5" stroke-linejoin="round"/>
<polyline points="158.31,474.86 158.50,453.24" fill="none" stroke="#1a1a1a" stroke-width="0.5" stroke-linejoin="round"/>
<polyline points="154.50,466.01 154.75,460.37" fill="none" stroke="#1a1a1a" stroke-width="0.5" stroke-linejoin="round"/>
<polyline points="151.68,468.73 151.67,457.70" fill="none" stroke="#1a1a1a" stroke-width="0.5" stroke-linejoin="round"/>
<polyline points="157.69,472.76 157.67,458.39" fill="none" stroke="#1a1a1a" stroke-width="0.5" stroke-linejoin="round"/>
<polyline points="164.67,469.23 164.92,457.31" fill="none" stroke="#1a1a1a" stroke-width="0.5" stroke-linejoin="round"/>
<polyline points="155.74,469.32 155.83,460.35" fill="none" stroke="#1a1a1a" stroke-width="0.5" stroke-linejoin="round"/>
<polyline points="157.37,470.48 157.50,465.36" fill="none" stroke="#1a1a1a" stroke-width="0.5" stroke-linejoin="round"/>
<polyline points="162.71,464.00 162.85,451.25" fill="none" stroke="#1a1a1a" stroke-width="0.5" stroke-linejoin="round"/>
<polyline points="155.17,469.07 155.19,458.16" fill="none" stroke="#1a1a1a" stroke-width="0.5" stroke-linejoin="round"/>
<polyline points="163.42,464.00 163.48,452.87" fill="none" stroke="#1a1a1a" stroke-width="0.5" stroke-linejoin="round"/>
<polyline points="163.23,464.00 163.30,456.36" fill="none" stroke="#1a1a1a" stroke-width="0.5" stroke-linejoin="round"/>
<polyline points="157.56,471.87 157.56,447.97" fill="none" stroke="#1a1a1a" stroke-width="0.5" stroke-linejoin="round"/>
<polyline points="76.40,470.00 76.70,400.00 77.00,470.00" fill="none" stroke="#111" stroke-width="0.6" stroke-linejoin="round"/>
<polyline points="79.30,470.00 79.60,439.00 79.90,470.00" fill="none" stroke="#111" stroke-width="0.6" stroke-linejoin="round"/>
<polyline points="80.20,470.00 80.50,430.00 80.80,470.00" fill="none" stroke="#111" stroke-width="0.6" stroke-linejoin="round"/>
<polyline points="82.90,470.00 83.20,447.00 83.50,470.00" fill="none" stroke="#111" stroke-width="0.6" stroke-linejoin="round"/>
<polyline points="86.50,470.00 86.80,437.00 87.10,470.00" fill="none" stroke="#111" stroke-width="0.6" stroke-linejoin="round"/>
<polyline points="88.20,470.00 88.50,444.00 88.80,470.00" fill="none" stroke="#111" stroke-width="0.6" stroke-linejoin="round"/>
<polyline points="90.00,470.00 90.30,437.00 90.60,470.00" fill="none" stroke="#111" stroke-width="0.6" stroke-linejoin="round"/>
<polyline points="92.40,470.00 92.70,430.00 93.00,470.00" fill="none" stroke="#111" stroke-width="0.6" stroke-linejoin="round"/>
<polyline points="95.30,470.00 95.60,440.00 95.90,470.00" fill="none" stroke="#111" stroke-width="0.6" stroke-linejoin="round"/>
<polyline points="98.40,470.00 98.70,455.00 99.00,470.00" fill="none" stroke="#111" stroke-width="0.6" stroke-linejoin="round"/>
<polyline points="101.50,470.00 101.80,428.00 102.10,470.00" fill="none" stroke="#111" stroke-width="0.6" stroke-linejoin="round"/>
<polyline points="103.20,470.00 103.50,382.70 103.80,470.00" fill="none" stroke="#111" stroke-width="0.6" stroke-linejoin="round"/>
<polyline points="105.10,470.00 105.40,400.80 105.70,470.00" fill="none" stroke="#111" stroke-width="0.6" stroke-linejoin="round"/>
<polyline points="106.20,470.00 106.50,425.00 106.80,470.00" fill="none" stroke="#111" stroke-width="0.6" stroke-linejoin="round"/>
<polyline points="108.00,470.00 108.30,440.00 108.60,470.00" fill="none" stroke="#111" stroke-width="0.6" stroke-linejoin="round"/>
<polyline points="110.40,470.00 110.70,412.00 111.00,470.00" fill="none" stroke="#111" stroke-width="0.6" stroke-linejoin="round"/>
<polyline points="112.10,470.00 112.40,415.70 112.70,470.00" fill="none" stroke="#111" stroke-width="0.6" stroke-linejoin="round"/>
<polyline points="115.20,470.00 115.50,434.80 115.80,470.00" fill="none" stroke="#111" stroke-width="0.6" stroke-linejoin="round"/>
<polyline points="116.70,470.00 117.00,445.00 117.30,470.00" fill="none" stroke="#111" stroke-width="0.6" stroke-linejoin="round"/>
<polyline points="118.70,470.00 119.00,404.90 119.30,470.00" fill="none" stroke="#111" stroke-width="0.6" stroke-linejoin="round"/>
<polyline points="120.40,470.00 120.70,423.00 121.00,470.00" fill="none" stroke="#111" stroke-width="0.6" stroke-linejoin="round"/>
<polyline points="122.40,470.00 122.70,414.50 123.00,470.00" fill="none" stroke="#111" stroke-width="0.6" stroke-linejoin="round"/>
<polyline points="123.70,470.00 124.00,440.00 124.30,470.00" fill="none" stroke="#111" stroke-width="0.6" stroke-linejoin="round"/>
<polyline points="125.20,470.00 125.50,425.00 125.80,470.00" fill="none" stroke="#111" stroke-width="0.6" stroke-linejoin="round"/>
<polyline points="126.70,470.00 127.00,450.00 127.30,470.00" fill="none" stroke="#111" stroke-width="0.6" stroke-linejoin="round"/>
<polyline points="128.30,470.00 128.60,420.00 128.90,470.00" fill="none" stroke="#111" stroke-width="0.6" stroke-linejoin="round"/>
<polyline points="130.00,470.00 130.30,463.60 130.60,470.00" fill="none" stroke="#111" stroke-width="0.6" stroke-linejoin="round"/>
<polyline points="151.70,470.00 152.00,435.00 152.30,470.00" fill="none" stroke="#111" stroke-width="0.6" stroke-linejoin="round"/>
<polyline points="153.20,470.00 153.50,437.00 153.80,470.00" fill="none" stroke="#111" stroke-width="0.6" stroke-linejoin="round"/>
<polyline points="154.70,470.00 155.00,435.00 155.30,470.00" fill="none" stroke="#111" stroke-width="0.6" stroke-linejoin="round"/>
<polyline points="156.70,470.00 157.00,440.00 157.30,470.00" fill="none" stroke="#111" stroke-width="0.6" stroke-linejoin="round"/>
<polyline points="159.30,470.00 159.60,410.00 159.90,470.00" fill="none" stroke="#111" stroke-width="0.6" stroke-linejoin="round"/>
<polyline points="160.70,470.00 161.00,438.00 161.30,470.00" fill="none" stroke="#111" stroke-width="0.6" stroke-linejoin="round"/>
<polyline points="162.20,470.00 162.50,440.00 162.80,470.00" fill="none" stroke="#111" stroke-width="0.6" stroke-linejoin="round"/>
<polyline points="164.20,470.00 164.50,427.00 164.80,470.00" fill="none" stroke="#111" stroke-width="0.6" stroke-linejoin="round"/>
<polyline points="165.20,470.00 165.50,445.00 165.80,470.00" fill="none" stroke="#111" stroke-width="0.6" stroke-linejoin="round"/>
<polyline points="206.30,483.00 206.30,450.90" fill="none" stroke="#555" stroke-width="0.5" stroke-linejoin="round"/>
<text transform="translate(165.6 423.8) scale(1.0500 1)" font-size="13.6">10 pA</text>
<polyline points="203.80,408.30 203.80,430.00 231.60,430.00" fill="none" stroke="#111" stroke-width="1.2" stroke-linejoin="round"/>
<text transform="translate(211.4 443.7) scale(1.0800 1)" font-size="13.6">1s</text>
<polygon points="251.30,446.92 251.80,447.37 252.30,449.22 252.80,447.29 253.30,448.69 253.80,446.14 254.30,447.18 254.80,446.44 255.30,448.89 255.80,447.73 256.30,446.56 256.80,446.12 257.30,447.27 257.80,446.14 257.80,463.15 257.30,465.33 256.80,463.10 256.30,463.25 255.80,464.63 255.30,463.21 254.80,465.46 254.30,462.85 253.80,465.22 253.30,464.53 252.80,465.21 252.30,464.71 251.80,463.25 251.30,464.10" fill="#000"/>
<polyline points="251.30,457.28 251.50,451.90 251.70,461.18 251.90,449.34 252.10,452.55 252.30,452.83 252.50,462.21 252.70,457.99 252.90,465.72 253.10,443.50 253.30,462.29 253.50,461.12 253.70,459.13 253.90,464.79 254.10,454.43 254.30,448.81 254.50,472.94 254.70,461.23 254.90,458.65 255.10,457.33 255.30,463.52 255.50,464.68 255.70,462.25 255.90,466.51 256.10,455.83 256.30,460.93 256.50,458.66 256.70,445.65 256.90,462.13 257.10,453.05 257.30,456.09 257.50,465.81 257.70,455.89" fill="none" stroke="#000" stroke-width="0.45" stroke-linejoin="round"/>
<polygon points="257.80,444.12 258.30,441.51 258.80,444.10 259.31,441.87 259.81,442.91 260.31,443.56 260.81,441.41 261.32,444.50 261.82,444.55 262.32,444.61 262.82,440.89 263.33,443.37 263.83,443.48 264.33,444.30 264.83,441.69 265.34,441.40 265.84,444.05 266.34,441.95 266.84,441.20 267.35,441.31 267.85,443.45 268.35,443.04 268.85,443.86 269.35,444.10 269.86,441.01 270.36,444.60 270.86,444.40 271.36,444.62 271.87,443.99 272.37,442.52 272.87,442.01 273.37,444.57 273.88,442.68 274.38,442.95 274.88,443.77 275.38,443.74 275.89,443.77 276.39,443.51 276.89,443.07 277.39,444.08 277.90,442.66 278.40,442.15 278.90,444.65 279.40,444.42 279.90,443.93 280.41,441.82 280.91,441.36 281.41,444.74 281.91,444.83 282.42,442.26 282.92,443.64 283.42,441.30 283.92,442.75 284.43,443.95 284.93,442.64 285.43,444.37 285.93,444.78 286.44,441.80 286.94,443.93 287.44,442.74 287.94,441.97 288.45,442.65 288.95,443.17 289.45,444.77 289.95,444.28 290.45,441.36 290.96,441.57 291.46,445.18 291.96,443.51 292.46,443.72 292.97,442.74 293.47,444.59 293.97,443.54 294.47,443.69 294.98,442.38 295.48,444.42 295.98,442.26 296.48,441.97 296.99,443.75 297.49,444.66 297.99,442.60 298.49,442.64 299.00,442.06 299.50,443.81 300.00,444.47 300.00,459.89 299.50,461.13 299.00,463.18 298.49,462.60 297.99,462.26 297.49,460.42 296.99,462.80 296.48,462.42 295.98,459.78 295.48,460.23 294.98,462.57 294.47,460.21 293.97,461.60 293.47,461.77 292.97,462.02 292.46,460.14 291.96,462.37 291.46,461.74 290.96,462.11 290.45,463.02 289.95,460.54 289.45,462.27 288.95,461.43 288.45,462.03 287.94,462.23 287.44,460.27 286.94,462.32 286.44,462.03 285.93,461.21 285.43,461.71 284.93,461.77 284.43,463.14 283.92,461.97 283.42,462.74 282.92,459.60 282.42,463.16 281.91,462.15 281.41,460.91 280.91,460.56 280.41,463.07 279.90,461.60 279.40,462.54 278.90,461.19 278.40,462.13 277.90,460.24 277.39,459.46 276.89,461.96 276.39,459.79 275.89,462.74 275.38,459.29 274.88,462.27 274.38,461.81 273.88,462.43 273.37,459.55 272.87,462.56 272.37,459.41 271.87,462.50 271.36,462.20 270.86,462.10 270.36,460.48 269.86,462.61 269.35,459.26 268.85,462.22 268.35,459.71 267.85,460.10 267.35,461.38 266.84,459.43 266.34,459.21 265.84,459.44 265.34,461.34 264.83,462.00 264.33,459.57 263.83,462.83 263.33,461.33 262.82,460.50 262.32,461.55 261.82,462.52 261.32,459.06 260.81,462.08 260.31,461.79 259.81,460.79 259.31,462.41 258.80,460.74 258.30,460.75 257.80,462.32" fill="#000"/>
<polyline points="257.80,453.95 258.00,463.33 258.20,462.85 258.40,456.57 258.60,442.75 258.80,441.31 259.00,463.79 259.20,443.50 259.40,450.52 259.60,444.46 259.80,467.36 260.00,441.26 260.20,447.01 260.40,454.37 260.60,460.70 260.80,447.09 261.00,460.13 261.20,443.85 261.40,450.95 261.60,454.78 261.80,447.67 262.00,444.19 262.20,456.11 262.40,459.46 262.60,446.34 262.80,453.16 263.00,443.13 263.20,460.32 263.40,449.09 263.60,463.51 263.80,458.85 264.00,458.12 264.20,444.12 264.40,459.93 264.60,443.50 264.80,467.37 265.00,441.67 265.20,446.27 265.40,448.57 265.60,468.41 265.80,449.98 266.00,447.84 266.20,446.07 266.40,447.08 266.60,461.65 266.80,440.54 267.00,444.64 267.20,452.60 267.40,448.14 267.60,455.03 267.80,446.72 268.00,449.18 268.20,454.41 268.40,449.83 268.60,459.54 268.80,448.14 269.00,442.41 269.20,450.08 269.40,460.30 269.60,463.46 269.80,442.71 270.00,458.48 270.20,466.80 270.40,445.69 270.60,465.04 270.80,446.83 271.00,460.09 271.20,454.18 271.40,463.48 271.60,448.33 271.80,448.05 272.00,455.94 272.20,463.54 272.40,443.02 272.60,444.69 272.80,450.98 273.00,448.07 273.20,456.48 273.40,432.08 273.60,462.30 273.80,440.55 274.00,469.46 274.20,460.45 274.40,442.10 274.60,448.00 274.80,458.22 275.00,469.57 275.20,448.84 275.40,446.68 275.60,450.06 275.80,444.57 276.00,460.85 276.20,450.22 276.40,462.08 276.60,464.16 276.80,435.59 277.00,446.12 277.20,454.64 277.40,457.30 277.60,444.12 277.80,454.78 278.00,447.67 278.20,456.90 278.40,462.81 278.60,448.43 278.80,457.23 279.00,463.12 279.20,456.56 279.40,462.03 279.60,463.85 279.80,440.83 280.00,453.99 280.20,442.07 280.40,454.09 280.60,458.55 280.80,461.32 281.00,452.05 281.20,445.26 281.40,448.68 281.60,444.43 281.80,442.80 282.00,453.42 282.20,465.50 282.40,443.89 282.60,444.55 282.80,457.11 283.00,456.38 283.20,452.32 283.40,450.44 283.60,448.41 283.80,446.09 284.00,448.47 284.20,460.65 284.40,448.87 284.60,460.15 284.80,456.30 285.00,449.60 285.20,454.85 285.40,449.06 285.60,463.46 285.80,441.95 286.00,462.99 286.20,435.49 286.40,436.31 286.60,467.89 286.80,456.02 287.00,442.00 287.20,446.82 287.40,444.99 287.60,450.79 287.80,452.24 288.00,457.39 288.20,454.35 288.40,437.17 288.60,435.87 288.80,436.46 289.00,460.92 289.20,467.94 289.40,446.88 289.60,448.21 289.80,446.51 290.00,435.28 290.20,464.72 290.40,468.97 290.60,451.55 290.80,459.81 291.00,452.67 291.20,452.76 291.40,454.05 291.60,461.76 291.80,440.79 292.00,463.07 292.20,441.15 292.40,436.18 292.60,453.86 292.80,440.66 293.00,446.40 293.20,448.85 293.40,450.05 293.60,437.53 293.80,448.95 294.00,448.40 294.20,464.11 294.40,461.28 294.60,442.75 294.80,433.46 295.00,442.89 295.20,457.42 295.40,452.43 295.60,448.03 295.80,455.70 296.00,442.38 296.20,448.85 296.40,467.60 296.60,447.04 296.80,462.14 297.00,462.59 297.20,455.98 297.40,447.07 297.60,469.73 297.80,442.46 298.00,445.52 298.20,454.24 298.40,457.97 298.60,466.09 298.80,462.45 299.00,444.93 299.20,446.39 299.40,448.71 299.60,452.75 299.80,463.49" fill="none" stroke="#000" stroke-width="0.45" stroke-linejoin="round"/>
<polyline points="290.30,452.00 290.30,429.20" fill="none" stroke="#000" stroke-width="0.6" stroke-linejoin="round"/>
<polyline points="298.70,452.00 298.70,433.30" fill="none" stroke="#000" stroke-width="0.6" stroke-linejoin="round"/>
<polyline points="252.50,460.00 252.50,476.70" fill="none" stroke="#000" stroke-width="0.6" stroke-linejoin="round"/>
<polyline points="290.00,460.00 290.00,474.20" fill="none" stroke="#000" stroke-width="0.6" stroke-linejoin="round"/>
<polyline points="300.20,450.00 300.50,468.00" fill="none" stroke="#000" stroke-width="0.7" stroke-linejoin="round"/>
<polygon points="300.50,462.07 301.00,463.02 301.50,463.26 302.00,462.05 302.50,462.93 303.00,462.16 303.50,462.54 304.00,462.45 304.50,463.58 305.00,462.24 305.50,462.95 306.00,463.05 306.50,462.46 307.00,463.85 307.50,462.47 308.00,462.45 308.50,463.30 309.00,462.83 309.50,463.37 310.00,462.05 310.50,462.04 311.00,463.40 311.50,462.60 312.00,463.68 312.50,462.24 313.00,462.25 313.50,463.69 314.00,462.54 314.50,461.95 315.00,462.21 315.50,463.48 316.00,462.31 316.50,462.98 317.00,463.63 317.50,463.11 318.00,463.44 318.50,463.96 319.00,462.39 319.50,463.72 320.00,462.97 320.50,462.17 321.00,462.00 321.50,462.46 322.00,462.02 322.00,473.87 321.50,473.01 321.00,473.72 320.50,473.86 320.00,474.21 319.50,474.36 319.00,472.63 318.50,473.58 318.00,472.74 317.50,472.80 317.00,473.64 316.50,474.85 316.00,473.36 315.50,474.16 315.00,473.31 314.50,473.85 314.00,474.23 313.50,473.75 313.00,474.53 312.50,474.64 312.00,474.41 311.50,472.82 311.00,473.75 310.50,473.55 310.00,474.31 309.50,474.89 309.00,472.98 308.50,474.87 308.00,474.56 307.50,474.44 307.00,473.46 306.50,473.63 306.00,473.50 305.50,473.84 305.00,473.55 304.50,472.78 304.00,473.81 303.50,474.57 303.00,473.88 302.50,473.52 302.00,472.87 301.50,474.80 301.00,473.61 300.50,473.12" fill="#000"/>
<polyline points="300.50,484.70 300.70,473.85 300.90,465.33 301.10,465.43 301.30,464.92 301.50,483.11 301.70,462.62 301.90,462.03 302.10,460.58 302.30,473.75 302.50,459.76 302.70,467.09 302.90,464.63 303.10,461.81 303.30,461.46 303.50,471.56 303.70,468.47 303.90,463.38 304.10,462.84 304.30,471.96 304.50,474.85 304.70,468.70 304.90,468.31 305.10,461.71 305.30,472.51 305.50,482.55 305.70,466.91 305.90,470.11 306.10,474.08 306.30,475.54 306.50,464.95 306.70,462.07 306.90,462.77 307.10,471.05 307.30,466.60 307.50,464.81 307.70,461.27 307.90,469.36 308.10,473.44 308.30,466.42 308.50,478.84 308.70,465.12 308.90,483.01 309.10,473.33 309.30,471.52 309.50,472.80 309.70,469.30 309.90,463.97 310.10,462.65 310.30,464.30 310.50,464.69 310.70,480.80 310.90,471.05 311.10,469.13 311.30,468.04 311.50,465.44 311.70,467.41 311.90,475.19 312.10,465.98 312.30,467.03 312.50,463.87 312.70,469.00 312.90,461.47 313.10,467.94 313.30,463.09 313.50,471.11 313.70,464.30 313.90,465.37 314.10,466.31 314.30,461.23 314.50,461.52 314.70,477.78 314.90,473.49 315.10,474.61 315.30,461.27 315.50,474.10 315.70,473.06 315.90,459.50 316.10,474.23 316.30,461.72 316.50,464.55 316.70,462.00 316.90,466.97 317.10,460.28 317.30,461.92 317.50,468.14 317.70,475.11 317.90,467.38 318.10,473.84 318.30,464.10 318.50,461.95 318.70,468.13 318.90,473.90 319.10,465.05 319.30,468.30 319.50,464.41 319.70,471.71 319.90,475.50 320.10,465.00 320.30,466.73 320.50,470.94 320.70,464.64 320.90,465.52 321.10,462.90 321.30,466.46 321.50,461.42 321.70,464.33 321.90,470.82" fill="none" stroke="#000" stroke-width="0.45" stroke-linejoin="round"/>
<polyline points="322.20,468.00 323.30,481.00 324.50,472.00" fill="none" stroke="#000" stroke-width="0.8" stroke-linejoin="round"/>
<polygon points="322.80,466.17 323.30,466.93 323.80,467.59 324.31,466.11 324.81,466.76 325.31,466.13 325.81,466.03 326.31,466.76 326.82,466.68 327.32,467.07 327.82,467.52 328.32,467.18 328.82,466.36 329.32,466.67 329.83,467.06 330.33,467.41 330.83,467.06 331.33,466.65 331.83,465.83 332.34,467.42 332.84,466.13 333.34,466.38 333.84,467.41 334.34,465.92 334.85,467.44 335.35,465.94 335.85,465.62 336.35,466.53 336.85,467.13 337.35,466.26 337.86,467.20 338.36,466.22 338.86,467.12 339.36,465.58 339.86,465.93 340.37,465.57 340.87,466.90 341.37,466.30 341.87,466.68 342.37,465.77 342.88,466.83 343.38,467.37 343.88,465.38 344.38,465.88 344.88,467.06 345.38,467.01 345.89,467.04 346.39,465.63 346.89,466.34 347.39,465.29 347.89,466.03 348.40,466.33 348.90,465.63 349.40,465.97 349.90,465.83 350.40,465.21 350.91,465.16 351.41,466.69 351.91,464.99 352.41,467.11 352.91,466.90 353.42,467.08 353.92,466.63 354.42,464.91 354.92,465.15 355.42,465.57 355.92,465.26 356.43,464.98 356.93,466.83 357.43,466.80 357.93,466.47 358.43,465.34 358.94,466.63 359.44,466.54 359.94,465.46 360.44,465.02 360.94,465.02 361.45,465.60 361.95,466.50 362.45,464.85 362.95,465.60 363.45,465.42 363.95,466.58 364.46,464.96 364.96,466.03 365.46,465.30 365.96,465.99 366.46,466.35 366.97,466.34 367.47,466.38 367.97,465.16 368.47,465.11 368.97,464.76 369.48,465.04 369.98,464.73 370.48,466.16 370.98,464.54 371.48,464.84 371.98,466.13 372.49,466.07 372.99,466.50 373.49,465.20 373.99,464.45 374.49,466.10 375.00,464.95 375.50,465.99 376.00,464.34 376.00,476.02 375.50,476.40 375.00,476.11 374.49,475.81 373.99,475.21 373.49,474.85 372.99,475.88 372.49,475.44 371.98,475.58 371.48,475.46 370.98,474.71 370.48,476.77 369.98,475.87 369.48,476.74 368.97,476.89 368.47,476.45 367.97,474.87 367.47,476.40 366.97,475.27 366.46,476.26 365.96,474.88 365.46,475.16 364.96,476.94 364.46,475.80 363.95,476.53 363.45,476.91 362.95,475.23 362.45,476.10 361.95,475.93 361.45,476.70 360.94,475.80 360.44,475.82 359.94,476.73 359.44,476.54 358.94,476.06 358.43,477.04 357.93,477.10 357.43,475.16 356.93,476.83 356.43,477.14 355.92,475.49 355.42,476.31 354.92,475.43 354.42,476.67 353.92,476.75 353.42,476.94 352.91,476.65 352.41,476.70 351.91,477.08 351.41,476.78 350.91,476.74 350.40,475.34 349.90,475.93 349.40,475.55 348.90,477.29 348.40,476.62 347.89,476.31 347.39,476.68 346.89,476.13 346.39,477.05 345.89,476.31 345.38,476.30 344.88,475.55 344.38,476.91 343.88,476.85 343.38,475.61 342.88,476.72 342.37,477.22 341.87,476.26 341.37,477.49 340.87,477.07 340.37,477.03 339.86,476.71 339.36,476.52 338.86,477.49 338.36,475.70 337.86,476.27 337.35,477.21 336.85,476.06 336.35,475.90 335.85,477.66 335.35,476.44 334.85,477.59 334.34,477.80 333.84,477.71 333.34,477.84 332.84,477.19 332.34,477.42 331.83,476.90 331.33,477.86 330.83,475.93 330.33,475.98 329.83,477.42 329.32,477.13 328.82,477.06 328.32,477.66 327.82,477.52 327.32,476.88 326.82,477.33 326.31,477.96 325.81,477.83 325.31,476.83 324.81,476.99 324.31,476.94 323.80,476.69 323.30,476.89 322.80,478.12" fill="#000"/>
<polyline points="322.80,466.28 323.00,468.69 323.20,466.07 323.40,473.97 323.60,478.46 323.80,468.74 324.00,469.74 324.20,468.39 324.40,474.58 324.60,477.18 324.80,472.37 325.00,474.34 325.20,476.56 325.40,467.49 325.60,469.69 325.80,471.32 326.00,477.78 326.20,477.99 326.40,465.25 326.60,474.52 326.80,476.44 327.00,474.41 327.20,473.07 327.40,470.19 327.60,476.55 327.80,469.82 328.00,485.63 328.20,478.25 328.40,470.04 328.60,472.49 328.80,477.08 329.00,477.93 329.20,470.17 329.40,470.52 329.60,472.23 329.80,476.25 330.00,477.45 330.20,476.66 330.40,465.54 330.60,469.50 330.80,470.30 331.00,468.30 331.20,477.23 331.40,469.94 331.60,472.23 331.80,471.53 332.00,476.92 332.20,474.24 332.40,469.85 332.60,475.78 332.80,466.05 333.00,478.27 333.20,473.52 333.40,473.10 333.60,475.05 333.80,468.87 334.00,476.01 334.20,479.98 334.40,475.43 334.60,476.27 334.80,476.34 335.00,476.84 335.20,469.68 335.40,472.78 335.60,475.85 335.80,466.46 336.00,474.18 336.20,465.58 336.40,480.05 336.60,467.62 336.80,479.34 337.00,466.04 337.20,470.75 337.40,476.66 337.60,466.48 337.80,473.96 338.00,472.53 338.20,473.73 338.40,465.91 338.60,465.20 338.80,473.11 339.00,465.48 339.20,467.01 339.40,469.91 339.60,469.62 339.80,469.78 340.00,466.61 340.20,475.20 340.40,468.58 340.60,476.66 340.80,470.60 341.00,466.93 341.20,468.54 341.40,465.95 341.60,467.86 341.80,465.68 342.00,475.93 342.20,482.41 342.40,472.89 342.60,477.67 342.80,475.80 343.00,473.47 343.20,471.78 343.40,473.14 343.60,478.15 343.80,468.04 344.00,467.85 344.20,478.00 344.40,468.95 344.60,464.94 344.80,465.22 345.00,477.98 345.20,472.04 345.40,465.04 345.60,466.27 345.80,475.68 346.00,467.24 346.20,467.17 346.40,468.70 346.60,468.75 346.80,477.22 347.00,466.88 347.20,466.40 347.40,465.45 347.60,474.39 347.80,475.04 348.00,466.89 348.20,463.76 348.40,470.58 348.60,476.96 348.80,474.54 349.00,467.60 349.20,470.13 349.40,467.48 349.60,466.66 349.80,476.56 350.00,476.21 350.20,472.64 350.40,468.88 350.60,470.42 350.80,474.33 351.00,469.12 351.20,474.79 351.40,467.40 351.60,468.13 351.80,464.59 352.00,474.82 352.20,473.63 352.40,473.03 352.60,476.82 352.80,475.41 353.00,469.41 353.20,466.99 353.40,477.70 353.60,472.64 353.80,476.97 354.00,475.54 354.20,476.01 354.40,473.19 354.60,465.27 354.80,474.31 355.00,476.66 355.20,466.62 355.40,469.97 355.60,474.91 355.80,477.53 356.00,475.95 356.20,477.00 356.40,476.85 356.60,470.34 356.80,471.78 357.00,473.71 357.20,464.33 357.40,472.39 357.60,470.96 357.80,468.24 358.00,466.48 358.20,477.02 358.40,474.68 358.60,464.98 358.80,473.70 359.00,477.12 359.20,463.97 359.40,469.21 359.60,464.43 359.80,467.71 360.00,469.28 360.20,470.16 360.40,466.29 360.60,476.41 360.80,468.39 361.00,476.06 361.20,473.57 361.40,467.38 361.60,465.06 361.80,468.48 362.00,467.17 362.20,473.21 362.40,468.71 362.60,465.76 362.80,476.25 363.00,463.63 363.20,477.06 363.40,464.97 363.60,477.66 363.80,465.59 364.00,471.11 364.20,474.29 364.40,481.10 364.60,471.41 364.80,477.19 365.00,475.41 365.20,468.18 365.40,466.26 365.60,474.52 365.80,476.44 366.00,468.52 366.20,471.38 366.40,474.28 366.60,466.11 366.80,476.16 367.00,467.92 367.20,471.89 367.40,467.23 367.60,464.74 367.80,463.80 368.00,473.12 368.20,469.49 368.40,474.34 368.60,464.84 368.80,477.43 369.00,477.48 369.20,468.07 369.40,477.13 369.60,473.69 369.80,469.28 370.00,472.51 370.20,470.53 370.40,472.32 370.60,473.89 370.80,464.41 371.00,482.43 371.20,475.22 371.40,465.34 371.60,469.53 371.80,476.20 372.00,467.95 372.20,468.28 372.40,465.13 372.60,470.30 372.80,471.50 373.00,473.82 373.20,474.01 373.40,473.15 373.60,464.91 373.80,475.02 374.00,470.02 374.20,475.62 374.40,476.01 374.60,465.12 374.80,469.27 375.00,472.61 375.20,475.65 375.40,465.09 375.60,475.80 375.80,463.90" fill="none" stroke="#000" stroke-width="0.45" stroke-linejoin="round"/>
<polygon points="376.40,452.97 376.90,451.40 377.40,452.59 377.90,454.13 378.40,451.24 378.90,453.59 379.40,452.52 379.90,454.08 380.40,453.71 380.90,451.20 381.40,453.03 381.90,453.71 382.40,451.88 382.90,453.22 383.40,451.80 383.90,451.65 384.40,452.05 384.90,451.92 385.40,454.03 385.90,451.74 386.40,452.34 386.40,467.82 385.90,466.86 385.40,468.76 384.90,466.28 384.40,467.38 383.90,466.14 383.40,468.74 382.90,467.47 382.40,467.35 381.90,466.32 381.40,468.57 380.90,467.12 380.40,466.26 379.90,468.46 379.40,466.92 378.90,468.59 378.40,466.29 377.90,467.07 377.40,465.94 376.90,466.82 376.40,467.47" fill="#000"/>
<polyline points="376.40,462.46 376.60,468.38 376.80,467.12 377.00,450.31 377.20,455.74 377.40,461.19 377.60,465.75 377.80,462.80 378.00,467.16 378.20,469.82 378.40,451.00 378.60,453.55 378.80,460.26 379.00,458.49 379.20,451.80 379.40,459.03 379.60,465.70 379.80,450.61 380.00,458.20 380.20,455.82 380.40,450.97 380.60,453.44 380.80,463.45 381.00,450.53 381.20,455.95 381.40,461.93 381.60,466.55 381.80,465.65 382.00,462.67 382.20,457.60 382.40,460.45 382.60,464.74 382.80,466.61 383.00,470.28 383.20,466.40 383.40,463.40 383.60,450.91 383.80,462.78 384.00,466.90 384.20,454.83 384.40,451.37 384.60,469.23 384.80,454.04 385.00,456.79 385.20,463.76 385.40,450.21 385.60,457.11 385.80,458.53 386.00,459.50 386.20,451.70" fill="none" stroke="#000" stroke-width="0.45" stroke-linejoin="round"/>
<polygon points="386.60,461.44 387.10,462.30 387.61,461.99 388.11,462.16 388.61,463.57 389.12,463.28 389.62,463.00 390.13,461.97 390.63,463.11 391.13,463.00 391.64,462.62 392.14,461.97 392.64,461.91 393.15,462.39 393.65,462.07 394.15,463.44 394.66,462.50 395.16,462.98 395.66,463.47 396.17,462.86 396.67,461.83 397.18,462.19 397.68,463.55 398.18,461.59 398.69,461.98 399.19,462.87 399.69,463.41 400.20,463.34 400.70,463.14 401.20,463.08 401.71,462.34 402.21,461.65 402.72,462.94 403.22,461.68 403.72,463.31 404.23,461.82 404.73,461.58 405.23,463.77 405.74,461.91 406.24,462.84 406.74,461.68 407.25,463.74 407.75,461.59 408.25,463.10 408.76,463.45 409.26,462.23 409.77,461.58 410.27,461.65 410.77,461.71 411.28,463.27 411.78,462.76 412.28,463.59 412.79,463.00 413.29,462.92 413.79,462.05 414.30,462.10 414.80,463.79 415.31,463.74 415.81,462.59 416.31,463.39 416.82,463.23 417.32,462.24 417.82,462.07 418.33,463.30 418.83,463.79 419.33,463.84 419.84,462.44 420.34,461.79 420.85,462.36 421.35,461.81 421.85,463.86 422.36,462.34 422.86,463.56 423.36,462.22 423.87,463.82 424.37,462.77 424.87,463.54 425.38,463.02 425.88,463.40 426.38,461.85 426.89,461.88 427.39,462.49 427.90,463.66 428.40,463.74 428.90,463.29 429.41,463.05 429.91,461.82 430.41,463.79 430.92,463.20 431.42,463.10 431.92,463.61 432.43,462.26 432.93,463.12 433.44,463.26 433.94,463.43 434.44,461.95 434.95,463.38 435.45,463.77 435.95,463.16 436.46,462.14 436.96,463.82 437.46,461.99 437.97,462.28 438.47,463.69 438.97,463.09 439.48,462.53 439.98,463.58 440.49,463.24 440.99,462.05 441.49,462.31 442.00,463.61 442.50,463.62 442.50,473.45 442.00,474.05 441.49,473.63 440.99,474.56 440.49,473.08 439.98,472.87 439.48,472.76 438.97,473.40 438.47,474.42 437.97,473.19 437.46,474.25 436.96,474.25 436.46,474.02 435.95,472.71 435.45,473.33 434.95,474.07 434.44,473.64 433.94,474.24 433.44,472.96 432.93,473.24 432.43,474.38 431.92,473.23 431.42,472.35 430.92,473.90 430.41,474.50 429.91,473.59 429.41,473.29 428.90,474.35 428.40,473.29 427.90,473.98 427.39,473.75 426.89,473.96 426.38,473.50 425.88,473.18 425.38,473.90 424.87,472.98 424.37,472.32 423.87,472.61 423.36,472.82 422.86,473.28 422.36,473.34 421.85,473.51 421.35,473.78 420.85,473.88 420.34,473.70 419.84,473.39 419.33,474.42 418.83,472.70 418.33,473.60 417.82,472.54 417.32,473.28 416.82,472.55 416.31,474.11 415.81,472.18 415.31,472.26 414.80,473.58 414.30,473.42 413.79,474.19 413.29,474.39 412.79,474.23 412.28,472.52 411.78,473.20 411.28,472.58 410.77,473.24 410.27,472.25 409.77,473.23 409.26,473.59 408.76,472.47 408.25,472.37 407.75,472.67 407.25,473.20 406.74,472.93 406.24,472.18 405.74,472.83 405.23,472.15 404.73,474.03 404.23,473.43 403.72,473.33 403.22,472.29 402.72,472.25 402.21,473.76 401.71,473.49 401.20,473.54 400.70,472.34 400.20,472.60 399.69,472.56 399.19,472.74 398.69,472.87 398.18,472.44 397.68,472.15 397.18,472.77 396.67,472.12 396.17,473.16 395.66,472.56 395.16,472.30 394.66,473.62 394.15,473.45 393.65,473.34 393.15,473.85 392.64,473.64 392.14,473.59 391.64,472.74 391.13,472.34 390.63,473.75 390.13,472.59 389.62,472.13 389.12,473.28 388.61,474.07 388.11,473.48 387.61,472.61 387.10,473.04 386.60,474.03" fill="#000"/>
<polyline points="386.60,462.66 386.80,473.16 387.00,485.79 387.20,478.95 387.40,474.01 387.60,470.65 387.80,472.72 388.00,463.67 388.20,469.65 388.40,473.48 388.60,472.10 388.80,471.29 389.00,476.37 389.20,478.89 389.40,462.82 389.60,461.41 389.80,462.17 390.00,469.41 390.20,470.62 390.40,468.16 390.60,464.61 390.80,471.86 391.00,472.74 391.20,473.08 391.40,474.65 391.60,453.34 391.80,466.29 392.00,474.28 392.20,469.94 392.40,455.46 392.60,483.59 392.80,457.81 393.00,465.12 393.20,467.44 393.40,473.99 393.60,469.17 393.80,474.06 394.00,463.80 394.20,464.93 394.40,465.29 394.60,461.36 394.80,461.00 395.00,465.99 395.20,469.00 395.40,471.77 395.60,473.47 395.80,473.17 396.00,470.78 396.20,467.68 396.40,484.42 396.60,472.35 396.80,476.07 397.00,471.14 397.20,474.71 397.40,465.62 397.60,475.64 397.80,461.04 398.00,461.20 398.20,471.38 398.40,469.36 398.60,463.49 398.80,459.82 399.00,472.31 399.20,469.49 399.40,472.42 399.60,472.15 399.80,464.77 400.00,463.27 400.20,474.50 400.40,463.20 400.60,478.24 400.80,462.87 401.00,465.29 401.20,465.30 401.40,469.20 401.60,471.81 401.80,467.28 402.00,467.76 402.20,465.39 402.40,474.39 402.60,464.86 402.80,462.54 403.00,466.61 403.20,468.43 403.40,470.41 403.60,464.62 403.80,469.69 404.00,472.57 404.20,456.65 404.40,463.88 404.60,463.94 404.80,472.92 405.00,462.53 405.20,462.08 405.40,473.66 405.60,463.08 405.80,484.83 406.00,460.93 406.20,463.58 406.40,462.32 406.60,467.34 406.80,463.78 407.00,470.02 407.20,473.68 407.40,464.29 407.60,465.25 407.80,466.14 408.00,467.99 408.20,465.89 408.40,454.94 408.60,486.32 408.80,464.52 409.00,473.70 409.20,467.69 409.40,462.50 409.60,473.83 409.80,464.52 410.00,461.15 410.20,461.29 410.40,466.74 410.60,474.18 410.80,461.19 411.00,484.86 411.20,461.76 411.40,474.70 411.60,463.02 411.80,466.26 412.00,474.97 412.20,468.47 412.40,468.06 412.60,472.92 412.80,471.08 413.00,466.62 413.20,459.43 413.40,467.84 413.60,470.39 413.80,472.30 414.00,470.35 414.20,465.92 414.40,461.96 414.60,474.49 414.80,467.54 415.00,466.63 415.20,464.09 415.40,473.37 415.60,472.98 415.80,473.07 416.00,470.41 416.20,471.19 416.40,467.63 416.60,476.17 416.80,463.53 417.00,463.23 417.20,474.44 417.40,461.53 417.60,467.68 417.80,463.08 418.00,473.93 418.20,473.79 418.40,470.48 418.60,470.28 418.80,476.60 419.00,460.63 419.20,458.17 419.40,473.12 419.60,463.26 419.80,473.91 420.00,461.33 420.20,469.88 420.40,463.65 420.60,468.56 420.80,458.53 421.00,463.86 421.20,463.96 421.40,465.13 421.60,473.46 421.80,471.59 422.00,465.00 422.20,456.93 422.40,473.32 422.60,471.17 422.80,459.22 423.00,473.02 423.20,470.31 423.40,478.78 423.60,469.66 423.80,468.09 424.00,473.90 424.20,463.42 424.40,462.25 424.60,471.06 424.80,468.29 425.00,462.09 425.20,479.41 425.40,460.01 425.60,469.87 425.80,463.49 426.00,472.23 426.20,470.73 426.40,472.85 426.60,463.54 426.80,469.88 427.00,467.68 427.20,471.33 427.40,462.00 427.60,474.84 427.80,469.97 428.00,469.10 428.20,471.79 428.40,467.48 428.60,463.31 428.80,467.31 429.00,468.26 429.20,471.39 429.40,459.61 429.60,461.87 429.80,471.67 430.00,463.02 430.20,486.32 430.40,465.52 430.60,470.49 430.80,462.53 431.00,467.56 431.20,468.10 431.40,460.60 431.60,484.21 431.80,464.52 432.00,471.96 432.20,465.99 432.40,468.75 432.60,469.69 432.80,458.14 433.00,470.26 433.20,465.47 433.40,464.40 433.60,462.38 433.80,463.41 434.00,466.89 434.20,472.06 434.40,470.35 434.60,465.47 434.80,469.99 435.00,472.60 435.20,483.51 435.40,483.26 435.60,470.96 435.80,480.48 436.00,470.42 436.20,471.49 436.40,469.54 436.60,474.21 436.80,461.55 437.00,471.23 437.20,461.59 437.40,455.40 437.60,458.29 437.80,461.87 438.00,467.20 438.20,467.94 438.40,473.26 438.60,466.59 438.80,468.23 439.00,473.69 439.20,479.56 439.40,466.85 439.60,477.19 439.80,471.29 440.00,470.60 440.20,461.26 440.40,465.88 440.60,466.61 440.80,465.93 441.00,454.00 441.20,469.82 441.40,467.49 441.60,469.60 441.80,471.01 442.00,470.38 442.20,481.67 442.40,462.98" fill="none" stroke="#000" stroke-width="0.45" stroke-linejoin="round"/>
<polyline points="442.60,470.00 442.80,487.30 464.20,487.30" fill="none" stroke="#000" stroke-width="1.0" stroke-linejoin="round"/>
<polygon points="443.00,486.22 443.50,486.22 444.01,486.22 444.51,486.25 445.02,486.45 445.52,486.40 446.03,486.44 446.53,486.38 447.04,486.32 447.54,486.46 448.05,486.26 448.55,486.32 449.06,486.34 449.56,486.42 450.07,486.45 450.57,486.39 451.08,486.40 451.58,486.29 452.09,486.40 452.59,486.48 453.10,486.34 453.60,486.45 454.10,486.37 454.61,486.37 455.11,486.40 455.62,486.25 456.12,486.27 456.63,486.26 457.13,486.38 457.64,486.42 458.14,486.43 458.65,486.27 459.15,486.31 459.66,486.25 460.16,486.42 460.67,486.34 461.17,486.29 461.68,486.27 462.18,486.51 462.69,486.36 463.19,486.53 463.70,486.31 464.20,486.27 464.20,488.15 463.70,488.27 463.19,488.09 462.69,488.15 462.18,488.18 461.68,488.12 461.17,488.19 460.67,488.18 460.16,488.10 459.66,488.21 459.15,488.12 458.65,488.14 458.14,488.15 457.64,488.14 457.13,488.32 456.63,488.31 456.12,488.23 455.62,488.09 455.11,488.09 454.61,488.15 454.10,488.21 453.60,488.21 453.10,488.32 452.59,488.19 452.09,488.34 451.58,488.23 451.08,488.24 450.57,488.36 450.07,488.15 449.56,488.24 449.06,488.32 448.55,488.25 448.05,488.25 447.54,488.34 447.04,488.09 446.53,488.26 446.03,488.09 445.52,488.10 445.02,488.21 444.51,488.12 444.01,488.35 443.50,488.10 443.00,488.16" fill="#000"/>
<text transform="translate(323.2 426.1) scale(1.0500 1)" font-size="13.6">40 pA</text>
<polyline points="362.20,409.80 362.20,431.00 379.60,431.00" fill="none" stroke="#111" stroke-width="1.2" stroke-linejoin="round"/>
<text transform="translate(364.3 444.5) scale(1.0800 1)" font-size="13.6">5s</text>
<polyline points="476.30,491.97 477.16,492.89 477.53,492.27 477.72,492.40 477.77,490.84 477.47,491.82 478.50,491.61 478.61,491.30 479.04,490.87 479.27,490.04 479.43,490.78 479.74,489.82 479.56,490.55 479.81,490.72 480.15,490.53 480.59,490.67 480.73,488.89 481.44,490.10 481.38,489.30 481.96,488.76 481.96,489.22 482.14,488.15 483.01,487.96 483.35,489.40 483.08,489.29 482.96,488.49 483.52,487.78 484.33,487.06 484.56,487.00 484.64,487.31 484.76,488.58 485.30,486.62 485.05,487.30 485.70,486.06 486.09,487.72 486.43,486.13 485.93,487.34 486.47,485.87 486.22,485.63 487.12,486.58 487.04,486.81 487.44,485.75 487.57,485.32 487.77,486.07 488.10,484.59 488.34,485.94 488.78,483.95 488.80,484.57 488.64,485.48 489.79,483.41 489.67,483.69 489.57,483.43 489.65,484.16 490.21,484.01 490.90,483.55 490.67,482.42 491.22,483.42 491.60,482.06 491.10,483.51 491.91,481.61 492.15,481.25 492.21,482.07 492.43,480.77 492.76,482.36 492.98,481.70 492.44,481.89 492.89,481.04 493.07,479.63 493.40,480.32 492.91,479.45 492.97,479.30 493.96,478.91 493.50,479.56 493.33,477.77 494.13,477.52 494.13,478.75 494.22,476.85 494.01,477.59 494.93,477.59 494.85,477.21 494.66,476.99 494.52,476.31 495.50,475.60 495.52,476.48 495.21,476.54 495.47,476.52 495.75,475.50 496.53,475.70 496.25,474.08 496.56,474.69 496.19,473.99 497.22,474.06 496.65,474.07 497.09,474.41 497.29,472.21 497.13,472.29 498.09,472.44 497.66,473.55 497.68,472.52 498.59,472.90 497.97,471.69 498.23,471.94 498.40,470.54 498.59,470.19 499.20,470.26 499.05,470.01 499.20,469.82 499.34,470.46 499.33,470.16 499.67,468.61 499.62,470.13 499.71,468.51 500.70,467.82 500.21,467.99 501.02,467.40 501.32,467.16 501.12,468.35 501.30,467.52 501.36,466.71 502.10,466.79 501.93,466.93 502.44,465.94 501.82,467.13 502.36,466.31 502.66,466.37 503.06,465.94 502.41,465.99 502.63,465.79 502.78,465.35 503.60,463.46 503.90,464.42 503.45,464.83 504.11,463.67 504.65,462.85 504.03,464.09 504.17,463.66 504.37,463.38 504.72,462.67 505.08,461.91 505.14,462.20 504.92,462.52 505.76,460.69 505.31,460.83 506.01,460.83 505.71,461.11 505.75,460.71 506.46,459.10 506.43,459.92 506.98,458.99 506.63,460.13 506.45,459.77 506.84,458.28 507.62,458.11 507.03,457.44 507.63,458.11 507.33,457.53 507.53,458.01 507.76,457.25 508.45,456.16 508.63,456.43 508.46,455.70 508.65,456.43 508.69,456.46 508.71,454.33 509.29,455.28 509.13,455.08 508.70,454.13 508.89,454.66 509.79,454.42 509.89,453.43 509.25,453.33 509.53,452.84 509.74,452.30 510.37,452.96 510.69,453.57 510.29,453.21 511.00,452.14 511.39,451.78 510.63,450.67 511.10,451.68 511.53,451.40 511.17,450.20 511.89,450.84 511.95,449.63 512.01,450.57 512.43,449.14 512.68,448.39 511.98,448.95 512.56,448.93 512.45,449.47 512.15,447.48 512.21,448.01 511.95,446.56 512.55,448.34 512.77,446.69 512.31,447.38 512.86,446.04 512.84,446.49 512.05,445.64 511.92,445.24 512.45,445.80 512.27,445.17 512.62,444.59 512.58,444.14 512.60,443.84 512.91,442.77 512.88,443.86 512.04,443.50 512.41,442.73 512.57,442.93 512.56,442.41 512.30,440.86 512.77,442.57 512.24,442.10 512.61,441.22 512.55,441.00 512.78,440.92 512.68,439.59 513.09,438.79 513.51,439.58 513.56,438.33 513.36,438.07 512.80,438.30 513.25,438.24 513.30,437.14 513.58,436.99 513.46,437.98 514.13,437.73 514.64,437.87 514.21,438.00 514.78,436.95 514.81,436.43 515.37,435.52 515.80,436.08 516.05,436.78 516.25,435.20 516.46,435.68 516.63,436.16 516.44,435.90 516.09,435.78 516.94,435.66 516.80,434.26 516.93,434.30 516.23,433.95 516.88,433.95 516.88,432.23 517.04,433.87 516.59,433.57 516.28,432.04 516.29,432.40 517.05,432.67 516.23,432.01 516.73,430.50 517.08,430.87 516.24,430.23 516.90,430.97 516.43,430.09 516.34,430.49 516.28,430.31 516.85,429.53 516.97,428.68 516.75,427.72 516.62,427.16 516.62,428.09 516.92,427.59 516.91,428.12 517.25,426.31 516.97,427.56 516.70,426.67 517.10,426.29 517.02,426.14 516.86,426.27 517.07,424.64 517.27,425.12 517.68,424.73 517.41,423.82 517.44,423.39 517.76,424.37 517.86,422.63 517.44,423.83 517.82,423.13 518.60,423.40 518.34,423.05 518.32,422.83 518.72,420.65 518.98,420.54 519.30,420.01 519.22,419.96 519.17,420.17 519.67,419.68 519.67,420.88 519.18,420.11 519.37,419.98 520.30,418.30 520.49,418.68 520.08,419.57 520.32,417.63 520.43,418.89 521.11,417.60 520.65,417.62 521.03,416.02 521.02,417.84 520.66,416.36 521.24,416.00 520.69,416.69 520.81,415.92 520.66,415.70 520.77,415.62 520.92,415.62 521.01,415.19 520.93,414.47 520.79,413.99 521.21,412.82 521.12,414.13 520.81,412.87 521.48,412.44 520.70,412.36 521.16,412.94 521.44,412.90 521.22,413.46 521.76,411.98 521.67,414.07 521.73,414.51 521.42,413.96 521.77,413.61 522.09,414.20 522.04,415.27 522.19,414.06 521.60,415.94 522.27,414.76 521.82,415.82 521.95,417.06 522.07,417.39 522.64,416.83 522.67,417.42 522.39,417.27 522.27,416.59 523.24,418.65 523.15,417.31 523.12,418.94 523.03,418.50 523.43,417.98 523.27,418.82 523.34,419.76 523.42,420.77 523.98,420.81 523.99,420.53 523.57,421.52 523.52,421.32 524.13,420.55 523.80,422.08 524.56,421.76 524.27,422.16 524.36,421.32 524.46,421.56 524.66,420.93 524.56,419.83 524.10,420.88 524.20,419.76 524.90,418.82 524.74,418.75 524.73,419.70 524.96,419.31 524.70,418.50 524.39,417.26 525.01,416.81 525.23,416.81 525.06,417.08 524.99,417.46 524.72,417.32 525.22,416.48 525.07,415.74 525.54,415.46 524.89,415.53 525.65,416.05 525.38,414.57 525.63,414.64 525.78,414.95 525.73,414.96 525.75,414.67 525.83,412.70 525.88,413.62 525.76,412.00 525.76,413.05 525.69,411.06 526.44,412.88 526.50,412.20 526.44,411.36 526.44,411.49 526.19,410.00 526.63,410.58 527.00,409.87 526.50,408.93 526.18,408.67 526.83,410.18 526.43,408.12 527.07,408.13 526.51,409.12 526.69,407.83 527.37,408.29 527.65,407.58 526.92,406.16 527.49,406.86 527.17,405.75 527.35,405.72 527.43,405.56 527.90,405.51 528.07,405.30 527.59,405.93 528.02,406.06 527.66,406.65 528.13,405.64 527.81,405.33 527.65,405.85 528.00,406.89 528.15,406.12 527.96,406.37 527.92,407.29 528.58,407.27 528.89,409.41 528.69,407.65 528.32,408.97 529.13,410.31 529.00,410.41 528.43,409.87 528.87,409.54 529.02,410.60 529.49,409.82 528.88,410.35 528.87,410.98 529.08,412.68 529.11,411.95 529.01,411.67 529.12,412.74 529.27,412.40 529.56,412.13 529.96,412.51 529.55,414.27 529.35,411.90 529.71,412.89 529.64,411.68 529.99,412.20 529.69,411.95 530.22,411.43 529.81,411.35 529.96,409.92 530.40,409.67 530.28,410.05 530.36,409.95 530.44,409.53 529.91,409.89 530.53,409.01 530.70,409.16 530.78,407.75 530.87,408.71 530.94,407.50 530.63,408.41 530.82,406.79 530.51,407.94 530.97,405.68 530.63,406.50 530.64,406.01 531.19,404.88 530.85,406.34 530.72,404.35 531.57,405.30 531.30,405.41 531.11,403.25 531.79,404.34 531.39,403.92 531.21,403.05 531.77,403.92 531.59,401.91 531.44,402.16 532.05,402.74 532.19,402.82 532.28,402.68 532.29,402.97 532.53,403.95 532.08,403.51 532.12,402.85 533.03,403.59 532.77,403.47 532.81,403.35 532.98,405.70 533.19,405.36 533.09,404.30 533.34,404.15 532.94,404.20 533.61,404.32 533.35,402.68 533.52,403.03 533.37,403.03 533.57,401.57 532.91,401.82 533.05,402.40 533.00,400.80 533.45,400.45 533.75,400.73 533.29,401.01 534.00,400.02 533.29,399.91 533.87,400.85 533.28,398.57 533.47,398.91 533.95,399.40 533.98,398.46 533.70,399.37 533.35,397.05 533.36,398.50 533.89,397.93 534.06,397.89 533.97,396.52 533.59,396.40 533.71,397.24 534.31,395.53 534.10,395.63 534.22,396.38 533.93,395.35 534.19,395.80 533.94,394.83 533.85,394.30 534.75,394.38 533.86,394.66 534.40,393.48 534.85,393.19 534.22,393.18 534.85,393.44 534.37,393.76 534.40,393.45 534.52,394.69 534.82,394.30 535.31,395.55 535.45,394.86 535.32,395.40 535.26,396.10 535.42,396.68 535.82,397.11 535.32,397.79 535.19,398.05 535.68,397.22 535.92,397.21 535.27,397.86 535.80,398.95 535.68,399.15 536.41,400.37 536.22,399.15 536.04,400.57 536.52,401.19 536.09,400.14 536.10,401.42 536.78,401.23 536.32,401.75 536.36,401.83 536.19,401.09 536.47,401.76 536.27,403.59 536.88,402.61 537.23,402.29 536.65,404.29 537.33,404.39 536.61,404.19 536.55,403.37 537.40,403.54 536.70,404.06 537.37,405.50 536.94,405.32 537.73,405.17 536.91,406.43 537.01,406.52 537.19,405.67 537.63,407.55 537.32,406.55 538.01,407.04 537.32,407.60 537.35,407.64 538.07,407.58 538.01,408.88 537.24,408.33 537.90,409.53 537.52,409.24 538.24,410.52 538.01,411.23 537.61,410.23 538.25,410.77 537.90,411.88 538.48,412.35 538.29,411.68 538.26,411.50 537.84,411.75 538.30,413.69 538.41,412.49 538.35,412.97 538.55,413.57 538.01,413.44 537.88,413.89 538.17,414.41 538.52,415.74 538.71,415.26 538.29,414.68 538.56,414.74 538.05,416.31 538.27,417.06 538.88,416.63 539.25,416.06 538.73,417.18 539.49,416.52 539.23,418.66 538.88,418.48 539.53,418.01 539.48,419.56 539.52,418.80 539.72,418.15 540.07,418.49 540.35,420.80 540.29,420.92 540.19,419.91 540.29,421.02 539.93,421.53 540.20,421.24 540.27,421.02 541.03,422.37 540.37,422.64 541.39,422.76 541.31,422.06 541.47,422.59 541.85,423.57 541.40,424.24 542.01,423.01 541.60,422.87 542.31,423.30 541.97,425.00 542.16,424.28 542.07,424.03 542.73,424.50 543.28,424.52 542.78,425.14 543.52,426.66 542.89,425.40 543.01,427.17 543.83,427.21 543.73,427.11 543.99,426.60 544.34,428.34 544.38,427.42 544.01,429.34 544.85,429.12 544.79,428.77 544.98,429.57 544.64,429.83 544.38,429.49 545.24,429.96 545.06,430.43 545.54,429.92 545.38,430.76 545.04,430.16 545.51,430.75 545.58,431.58 545.51,432.87 545.29,432.44 545.71,431.82 545.80,433.69 545.70,433.56 545.87,433.49 546.25,432.80 546.61,433.76 546.11,433.67 546.99,435.57 546.62,434.36 547.01,434.14 547.32,434.29 546.66,435.28 547.22,434.81 547.21,437.22 547.85,435.45 548.10,436.60 548.37,436.55 547.84,437.59 548.17,436.97 548.36,438.02 548.31,438.69 548.90,438.80 548.96,437.91 549.15,438.06 548.72,439.06 548.89,438.51 549.45,440.65 549.05,439.75 549.23,440.24 549.85,440.40 549.45,441.14 550.06,441.14 550.36,442.14 550.27,442.43 550.15,441.70 550.29,441.79 551.15,443.40 550.86,442.13 550.85,443.78 551.11,442.51 551.64,443.47 551.37,444.61 551.83,442.93 552.19,444.18 551.54,445.45 551.92,445.23 552.39,444.43 552.77,445.51 551.98,445.73 552.08,446.98 552.87,445.93 553.14,447.12 553.19,446.15 552.72,447.79 553.66,446.94 553.31,447.33 553.34,448.78 553.74,448.54 553.96,447.45 553.57,447.84 554.13,449.17 554.78,450.04 554.66,449.17 554.41,450.13 554.56,450.55 555.08,449.40 555.30,449.61 554.94,451.82 555.39,451.84 555.78,450.81 555.77,451.33 555.16,451.02 555.34,452.45 555.98,453.20 555.75,453.29 555.84,452.58 556.35,453.03 556.81,453.14 556.17,454.66 556.92,453.36 556.51,454.40 556.35,454.37 557.18,455.52 556.68,454.78 556.91,455.89 556.90,456.83 557.00,456.10 557.71,457.30 557.74,457.37 557.77,456.26 557.78,457.38 558.01,458.04 558.14,457.44 558.28,458.00 557.94,457.83 558.66,458.93 558.68,459.25 558.92,458.68 558.82,459.87 559.66,459.97 559.13,460.17 559.57,460.91 559.24,460.83 559.86,461.26 560.16,459.65 560.41,461.06 560.12,460.41 560.45,461.62 560.69,460.68 560.52,462.39 561.08,462.78 561.11,461.97 561.58,462.18 560.92,462.81 561.39,462.76 561.98,463.11 561.22,464.36 561.32,463.82 561.67,464.10 561.99,464.11 562.06,464.35 562.08,466.55 562.37,466.78 562.21,465.35 562.11,467.01 561.95,467.06 562.22,467.92 562.33,466.91 562.33,467.69 563.09,467.99 562.96,468.25 562.38,468.69 562.97,469.01 562.76,468.59 562.87,468.37 562.78,469.23 563.21,470.91 563.54,470.30 563.69,470.42 563.16,471.22 563.96,471.42 564.24,471.97 564.36,470.62 564.67,472.08 564.40,472.40 564.22,471.99 564.96,472.91 565.18,472.32 564.95,473.45 564.54,473.78 565.03,473.61 564.98,474.23 565.62,475.15 565.93,475.61 566.21,475.26 565.66,475.17 565.62,475.49 565.98,475.69 566.58,474.90 566.85,475.11 566.61,475.78 566.31,476.61 566.68,476.00 567.39,476.62 567.65,477.69 567.21,476.74 567.86,477.11 567.93,478.30 567.76,477.58 567.91,477.69 568.43,479.46 567.99,479.27 568.22,479.97 568.42,479.03 568.70,481.04 569.42,480.04 569.58,480.20 569.16,481.62 569.19,481.64 570.30,480.34 570.39,482.12 569.76,481.63 570.16,481.75 570.52,481.97 570.39,481.90 570.91,482.93 571.55,483.35 571.73,483.87 571.89,482.79 571.61,483.90 572.37,482.86 572.56,484.78 572.89,483.58 573.33,483.97 572.78,483.48 573.96,483.71 574.05,483.72 573.95,484.43 574.14,484.16 574.46,485.79 574.85,484.57 575.40,486.35 575.31,485.38 575.14,484.90 575.76,485.14 576.62,486.47 576.23,486.49 576.35,487.38 576.95,487.05 576.89,486.71 577.69,486.68 577.31,487.01 578.33,487.15 578.75,487.52 578.92,486.52 578.93,487.72 578.92,488.75 578.93,488.00 579.41,489.21 580.15,487.71 579.76,487.49 580.08,489.64 581.04,489.53 580.83,488.99 581.28,489.88 580.96,488.69 581.79,488.78 582.40,488.76 582.69,489.32 582.16,489.97 582.86,491.38 582.95,491.38 583.62,491.76 583.34,490.82 583.25,490.81 583.84,490.43 584.57,490.95 584.12,490.78 584.27,492.37 585.03,492.05 585.23,493.06 585.51,492.03 586.14,493.07 586.63,493.01 586.27,493.19 587.22,491.88 587.52,493.29 587.78,492.86 588.19,493.21 588.45,491.49 588.19,491.62 588.80,492.50" fill="none" stroke="#000" stroke-width="1.5" stroke-linejoin="round"/>
<polygon points="479.40,487.95 479.92,487.38 480.43,487.48 480.95,487.49 481.47,487.26 481.98,486.27 482.50,486.49 483.02,485.81 483.53,486.09 484.05,485.19 484.57,484.97 485.08,484.87 485.60,484.35 486.12,484.58 486.63,483.96 487.15,484.08 487.67,483.99 488.18,483.35 488.70,483.08 489.22,483.21 489.73,482.42 490.25,482.59 490.77,482.18 491.28,481.38 491.80,481.33 491.80,484.37 491.28,485.03 490.77,484.80 490.25,485.43 489.73,485.71 489.22,485.61 488.70,485.92 488.18,486.20 487.67,486.49 487.15,487.05 486.63,487.28 486.12,487.68 485.60,487.91 485.08,488.07 484.57,488.16 484.05,488.65 483.53,488.88 483.02,488.89 482.50,489.32 481.98,489.43 481.47,489.74 480.95,489.89 480.43,490.21 479.92,491.09 479.40,490.85" fill="#000"/>
<polygon points="496.80,472.74 497.33,472.08 497.86,471.35 498.39,470.58 498.91,469.55 499.44,468.67 499.97,468.51 500.50,467.72 501.03,466.72 501.56,466.07 502.09,464.96 502.61,464.44 503.14,463.78 503.67,463.10 504.20,462.04 504.20,465.04 503.67,465.52 503.14,466.21 502.61,466.97 502.09,468.00 501.56,468.64 501.03,469.36 500.50,469.84 499.97,470.98 499.44,471.33 498.91,472.07 498.39,473.24 497.86,473.56 497.33,474.23 496.80,475.54" fill="#000"/>
<polygon points="538.00,417.91 538.52,418.35 539.03,419.07 539.55,420.06 540.07,420.52 540.58,421.73 541.10,422.31 541.62,423.16 542.13,423.62 542.65,424.42 543.17,425.06 543.68,425.81 544.20,426.67 544.20,428.97 543.68,428.22 543.17,427.97 542.65,426.92 542.13,426.25 541.62,425.81 541.10,424.52 540.58,424.33 540.07,423.41 539.55,422.78 539.03,421.57 538.52,421.03 538.00,420.10" fill="#000"/>
<polygon points="476.30,489.94 476.82,489.88 477.33,490.19 477.85,490.11 478.37,490.16 478.88,490.17 479.40,490.37 479.40,493.79 478.88,493.51 478.37,493.21 477.85,493.53 477.33,493.35 476.82,493.61 476.30,493.34" fill="#000"/>
<polygon points="493.00,475.83 493.50,475.39 494.00,475.77 494.50,475.62 495.00,475.71 495.50,475.71 495.50,479.61 495.00,479.46 494.50,479.57 494.00,479.35 493.50,479.23 493.00,479.18" fill="#000"/>
<polygon points="508.00,450.75 508.50,450.85 509.00,450.82 509.50,450.72 510.00,450.73 510.50,450.73 511.00,450.64 511.50,450.94 512.00,450.57 512.00,455.26 511.50,454.90 511.00,455.17 510.50,454.88 510.00,455.43 509.50,455.29 509.00,454.97 508.50,455.37 508.00,455.31" fill="#000"/>
<polygon points="513.20,434.49 513.73,434.67 514.27,434.26 514.80,435.02 515.33,434.31 515.87,434.97 516.40,434.75 516.40,439.66 515.87,439.64 515.33,439.45 514.80,439.35 514.27,439.05 513.73,439.62 513.20,439.16" fill="#000"/>
<polygon points="545.50,432.82 546.00,432.90 546.50,432.50 547.00,432.72 547.50,432.70 547.50,436.46 547.00,436.75 546.50,436.60 546.00,436.65 545.50,436.64" fill="#000"/>
<polygon points="551.50,443.93 552.00,443.99 552.50,443.74 553.00,444.36 553.50,443.66 554.00,444.16 554.00,448.54 553.50,448.59 553.00,448.77 552.50,448.04 552.00,448.53 551.50,448.28" fill="#000"/>
<polygon points="557.00,455.68 557.50,455.64 558.00,455.73 558.50,455.85 559.00,455.21 559.50,455.62 559.50,459.97 559.00,460.19 558.50,459.94 558.00,459.80 557.50,459.68 557.00,459.90" fill="#000"/>
<polygon points="562.30,468.01 562.93,467.93 563.57,467.96 564.20,468.15 564.20,472.00 563.57,472.05 562.93,471.71 562.30,472.07" fill="#000"/>
<polygon points="566.80,476.41 567.35,476.75 567.90,476.54 568.45,476.79 569.00,476.10 569.00,480.28 568.45,480.87 567.90,480.25 567.35,480.76 566.80,480.21" fill="#000"/>
<polygon points="572.50,482.66 573.00,482.69 573.50,482.48 574.00,482.48 574.50,482.31 574.50,486.88 574.00,486.98 573.50,486.75 573.00,486.55 572.50,486.90" fill="#000"/>
<polygon points="577.80,485.42 578.30,485.44 578.80,485.63 579.30,485.96 579.80,485.72 579.80,489.38 579.30,489.48 578.80,489.60 578.30,490.02 577.80,489.57" fill="#000"/>
<polygon points="583.50,490.11 584.03,490.04 584.56,490.29 585.09,489.69 585.62,490.17 586.15,490.12 586.68,490.12 587.21,489.86 587.74,489.66 588.27,489.70 588.80,490.09 588.80,494.24 588.27,494.24 587.74,494.14 587.21,494.15 586.68,494.22 586.15,494.19 585.62,494.06 585.09,493.81 584.56,494.31 584.03,493.72 583.50,494.18" fill="#000"/>
<polyline points="534.40,396.00 534.40,382.40" fill="none" stroke="#444" stroke-width="0.6" stroke-linejoin="round"/>
<text transform="translate(508.6 480.2) scale(1.0600 1)" font-size="13.6">20pA</text>
<polyline points="544.30,467.20 544.30,483.70 556.80,483.70" fill="none" stroke="#111" stroke-width="1.2" stroke-linejoin="round"/>
<text transform="translate(543.8 498.8) scale(1.0800 1)" font-size="13.6">1s</text>
</svg>
</body></html>
